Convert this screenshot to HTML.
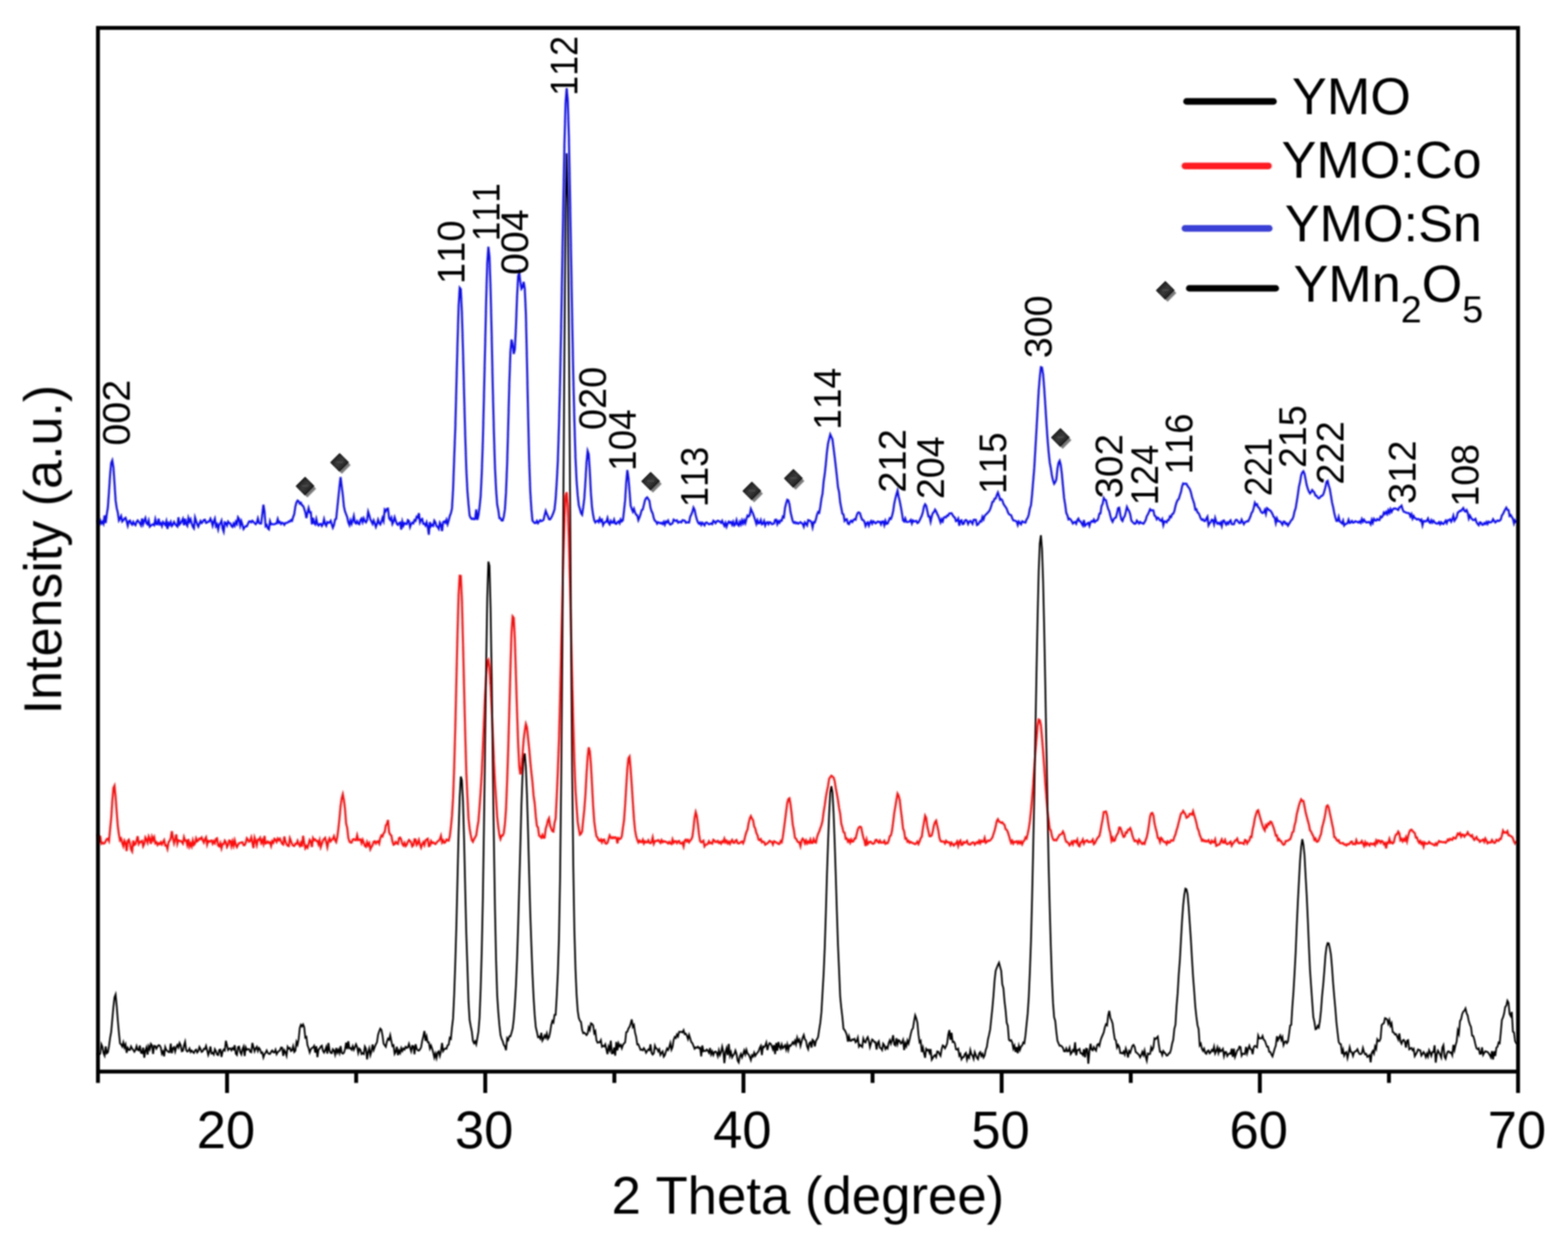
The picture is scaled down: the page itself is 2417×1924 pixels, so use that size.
<!DOCTYPE html>
<html lang="en"><head><meta charset="utf-8"><title>XRD patterns of YMO, YMO:Co and YMO:Sn</title>
<style>html,body{margin:0;padding:0;background:#fff}body{width:2417px;height:1924px;overflow:hidden}svg{display:block}text{font-family:"Liberation Sans",Arial,Helvetica,sans-serif;fill:#000;font-kerning:none}</style></head><body>
<svg role="img" aria-label="XRD patterns" width="2417" height="1924" viewBox="0 0 2417 1924">
<defs><linearGradient id="dg" x1="0" y1="0" x2="1" y2="1"><stop offset="0" stop-color="#111"/><stop offset="0.5" stop-color="#3a3a3a"/><stop offset="1" stop-color="#0a0a0a"/></linearGradient>
<g id="dia"><path d="M3.5 -9.5 L17 4 L3.5 17.5 L-10 4 Z" fill="#7d7d7d"/><path d="M0 -13.5 L13.5 0 L0 13.5 L-13.5 0 Z" fill="url(#dg)" stroke="#000" stroke-width="1.5"/><path d="M-5 -0.5 H5" stroke="#555" stroke-width="1.6" fill="none"/></g>
<filter id="soft" filterUnits="userSpaceOnUse" x="0" y="0" width="2417" height="1924"><feGaussianBlur stdDeviation="1.0"/></filter><filter id="soft2" filterUnits="userSpaceOnUse" x="0" y="0" width="2417" height="1924"><feGaussianBlur stdDeviation="1.0"/></filter></defs>
<rect width="2417" height="1924" fill="#fff"/>
<g fill="none" stroke-linejoin="miter" stroke-miterlimit="5" stroke-linecap="round" filter="url(#soft2)">
<path d="M151.0 803.5 L152.7 807.5 L154.4 802.5 L156.1 807.1 L157.8 804.3 L159.5 807.6 L161.2 794.8 L162.9 806.3 L164.6 792.8 L166.3 782.0 L168.0 758.0 L169.7 731.9 L171.4 713.7 L173.1 709.7 L174.8 720.2 L176.5 744.8 L178.2 771.7 L179.9 783.3 L181.6 790.2 L183.3 802.2 L185.0 799.2 L186.7 795.6 L188.4 804.0 L190.1 802.1 L191.8 799.6 L193.5 798.3 L195.2 803.8 L196.9 810.3 L198.6 803.6 L200.3 802.5 L202.0 806.9 L203.7 808.8 L205.4 804.7 L207.1 807.8 L208.8 809.6 L210.5 804.7 L212.2 802.3 L213.9 804.6 L215.6 806.6 L217.3 809.7 L219.0 799.4 L220.7 807.9 L222.4 802.7 L224.1 798.7 L225.8 806.7 L227.5 808.4 L229.2 802.7 L230.9 811.9 L232.6 810.2 L234.3 809.2 L236.0 808.1 L237.7 809.7 L239.4 800.7 L241.1 808.2 L242.8 808.4 L244.5 799.6 L246.2 808.1 L247.9 806.5 L249.6 811.0 L251.3 804.8 L253.0 807.1 L254.7 809.2 L256.4 803.6 L258.1 815.4 L259.8 806.4 L261.5 808.9 L263.2 804.7 L264.9 810.8 L266.6 808.6 L268.3 804.8 L270.0 807.9 L271.7 810.0 L273.4 811.7 L275.1 797.6 L276.8 808.4 L278.5 806.4 L280.2 803.6 L281.9 799.9 L283.6 809.8 L285.3 799.8 L287.0 807.7 L288.7 810.5 L290.4 798.6 L292.1 804.2 L293.8 800.5 L295.5 807.1 L297.2 812.1 L298.9 814.5 L300.6 797.9 L302.3 803.3 L304.0 808.3 L305.7 811.8 L307.4 807.2 L309.1 803.3 L310.8 806.3 L312.5 804.5 L314.2 801.6 L315.9 801.3 L317.6 806.1 L319.3 805.6 L321.0 804.1 L322.7 803.9 L324.4 799.7 L326.1 803.6 L327.8 810.4 L329.5 804.1 L331.2 799.6 L332.9 811.2 L334.6 808.4 L336.3 816.0 L338.0 808.3 L339.7 806.8 L341.4 802.7 L343.1 814.6 L344.8 819.5 L346.5 805.4 L348.2 806.4 L349.9 810.1 L351.6 804.2 L353.3 806.4 L355.0 806.9 L356.7 810.9 L358.4 812.4 L360.1 807.3 L361.8 810.6 L363.5 804.4 L365.2 807.5 L366.9 797.6 L368.6 800.4 L370.3 810.2 L372.0 803.6 L373.7 809.0 L375.4 815.5 L377.1 812.9 L378.8 811.2 L380.5 811.4 L382.2 807.7 L383.9 804.0 L385.6 803.7 L387.3 805.2 L389.0 802.9 L390.7 804.5 L392.4 806.5 L394.1 808.2 L395.8 805.8 L397.5 799.4 L399.2 806.0 L400.9 807.2 L402.6 807.1 L404.3 793.1 L406.0 778.1 L407.7 788.5 L409.4 811.1 L411.1 809.4 L412.8 814.5 L414.5 816.1 L416.2 803.7 L417.9 808.3 L419.6 808.0 L421.3 808.3 L423.0 808.3 L424.7 807.3 L426.4 806.9 L428.1 800.3 L429.8 805.9 L431.5 804.6 L433.2 807.9 L434.9 805.8 L436.6 806.6 L438.3 809.1 L440.0 806.3 L441.7 806.2 L443.4 805.6 L445.1 803.9 L446.8 804.3 L448.5 801.7 L450.2 802.9 L451.9 797.1 L453.6 792.5 L455.3 780.9 L457.0 774.6 L458.7 771.7 L460.4 772.9 L462.1 776.4 L463.8 775.2 L465.5 779.0 L467.2 779.8 L468.9 784.2 L470.6 789.7 L472.3 798.6 L474.0 790.5 L475.7 783.4 L477.4 790.0 L479.1 789.7 L480.8 808.3 L482.5 798.2 L484.2 806.4 L485.9 808.4 L487.6 800.3 L489.3 807.9 L491.0 810.1 L492.7 807.9 L494.4 807.7 L496.1 810.8 L497.8 808.0 L499.5 800.5 L501.2 807.6 L502.9 810.4 L504.6 804.9 L506.3 806.0 L508.0 805.5 L509.7 802.9 L511.4 808.5 L513.1 813.6 L514.8 809.4 L516.5 801.0 L518.2 799.8 L519.9 783.2 L521.6 766.9 L523.3 750.2 L525.0 735.4 L526.7 749.8 L528.4 762.9 L530.1 780.6 L531.8 788.4 L533.5 792.8 L535.2 797.1 L536.9 805.3 L538.6 809.3 L540.3 802.3 L542.0 807.5 L543.7 802.4 L545.4 795.6 L547.1 805.4 L548.8 806.9 L550.5 803.6 L552.2 807.2 L553.9 808.1 L555.6 801.8 L557.3 799.5 L559.0 805.1 L560.7 799.2 L562.4 803.3 L564.1 805.3 L565.8 802.0 L567.5 789.0 L569.2 794.1 L570.9 800.8 L572.6 803.9 L574.3 807.6 L576.0 802.4 L577.7 807.0 L579.4 812.3 L581.1 807.8 L582.8 801.4 L584.5 806.3 L586.2 808.5 L587.9 804.4 L589.6 798.5 L591.3 803.2 L593.0 785.9 L594.7 788.1 L596.4 784.4 L598.1 784.1 L599.8 799.0 L601.5 801.4 L603.2 798.1 L604.9 807.6 L606.6 804.0 L608.3 797.5 L610.0 802.8 L611.7 807.5 L613.4 809.1 L615.1 806.4 L616.8 805.6 L618.5 816.4 L620.2 804.2 L621.9 810.3 L623.6 806.5 L625.3 807.6 L627.0 808.0 L628.7 801.9 L630.4 803.2 L632.1 812.4 L633.8 807.8 L635.5 805.7 L637.2 806.8 L638.9 801.7 L640.6 802.9 L642.3 796.6 L644.0 797.9 L645.7 791.1 L647.4 805.1 L649.1 801.2 L650.8 800.1 L652.5 807.5 L654.2 807.3 L655.9 810.2 L657.6 805.3 L659.3 811.7 L661.0 824.4 L662.7 805.0 L664.4 811.1 L666.1 809.0 L667.8 810.5 L669.5 802.7 L671.2 805.3 L672.9 811.3 L674.6 812.2 L676.3 815.2 L678.0 805.9 L679.7 809.0 L681.4 818.8 L683.1 804.8 L684.8 803.7 L686.5 805.8 L688.2 801.4 L689.9 808.0 L691.6 802.6 L693.3 795.6 L695.0 791.4 L696.7 784.1 L698.4 754.6 L700.1 706.8 L701.8 660.4 L703.5 595.1 L705.2 530.4 L706.9 473.0 L708.6 443.7 L710.3 445.9 L712.0 482.5 L713.7 540.4 L715.4 607.5 L717.1 671.0 L718.8 723.3 L720.5 757.1 L722.2 777.3 L723.9 794.9 L725.6 798.5 L727.3 800.1 L729.0 799.3 L730.7 800.5 L732.4 800.1 L734.1 785.5 L735.8 801.5 L737.5 794.6 L739.2 781.5 L740.9 765.2 L742.6 730.0 L744.3 680.4 L746.0 610.9 L747.7 537.7 L749.4 463.0 L751.1 405.5 L752.8 380.4 L754.5 395.8 L756.2 445.3 L757.9 517.0 L759.6 597.8 L761.3 665.7 L763.0 720.7 L764.7 754.8 L766.4 778.0 L768.1 786.4 L769.8 798.9 L771.5 799.0 L773.2 802.5 L774.9 802.4 L776.6 796.3 L778.3 785.2 L780.0 758.9 L781.7 715.9 L783.4 656.4 L785.1 591.1 L786.8 542.1 L788.5 523.5 L790.2 530.9 L791.9 545.6 L793.6 538.8 L795.3 504.2 L797.0 458.0 L798.7 425.9 L800.4 420.7 L802.1 435.0 L803.8 445.1 L805.5 442.6 L807.2 434.5 L808.9 445.0 L810.6 483.4 L812.3 557.4 L814.0 637.3 L815.7 709.2 L817.4 757.5 L819.1 784.9 L820.8 802.8 L822.5 804.6 L824.2 806.4 L825.9 806.3 L827.6 803.2 L829.3 806.6 L831.0 804.2 L832.7 802.0 L834.4 803.5 L836.1 802.6 L837.8 801.6 L839.5 794.3 L841.2 787.7 L842.9 792.2 L844.6 795.8 L846.3 800.6 L848.0 800.7 L849.7 798.1 L851.4 794.6 L853.1 790.4 L854.8 785.2 L856.5 769.1 L858.2 743.1 L859.9 710.1 L861.6 656.5 L863.3 589.8 L865.0 503.0 L866.7 406.4 L868.4 308.7 L870.1 221.2 L871.8 158.7 L873.5 135.8 L875.2 155.4 L876.9 211.5 L878.6 298.2 L880.3 394.7 L882.0 492.4 L883.7 579.5 L885.4 649.0 L887.1 705.7 L888.8 741.6 L890.5 763.7 L892.2 779.2 L893.9 784.8 L895.6 791.1 L897.3 793.5 L899.0 782.0 L900.7 768.4 L902.4 742.5 L904.1 713.2 L905.8 695.3 L907.5 700.2 L909.2 727.4 L910.9 760.6 L912.6 782.3 L914.3 794.1 L916.0 802.2 L917.7 805.4 L919.4 803.4 L921.1 802.6 L922.8 804.9 L924.5 799.4 L926.2 803.5 L927.9 801.5 L929.6 809.4 L931.3 806.0 L933.0 804.8 L934.7 804.4 L936.4 798.8 L938.1 806.0 L939.8 808.4 L941.5 802.9 L943.2 805.7 L944.9 805.7 L946.6 801.2 L948.3 807.0 L950.0 807.7 L951.7 805.3 L953.4 803.8 L955.1 806.7 L956.8 800.8 L958.5 803.7 L960.2 802.1 L961.9 787.2 L963.6 771.4 L965.3 743.5 L967.0 724.7 L968.7 736.3 L970.4 757.3 L972.1 779.4 L973.8 784.4 L975.5 788.8 L977.2 784.5 L978.9 790.2 L980.6 793.6 L982.3 794.6 L984.0 801.8 L985.7 797.8 L987.4 792.8 L989.1 786.4 L990.8 785.4 L992.5 778.5 L994.2 771.3 L995.9 768.1 L997.6 766.8 L999.3 769.4 L1001.0 771.8 L1002.7 782.7 L1004.4 788.3 L1006.1 791.5 L1007.8 799.0 L1009.5 802.9 L1011.2 803.8 L1012.9 807.3 L1014.6 805.2 L1016.3 805.8 L1018.0 807.0 L1019.7 805.9 L1021.4 807.8 L1023.1 804.7 L1024.8 808.8 L1026.5 803.9 L1028.2 805.4 L1029.9 802.5 L1031.6 807.0 L1033.3 808.8 L1035.0 807.7 L1036.7 806.8 L1038.4 801.1 L1040.1 802.5 L1041.8 803.2 L1043.5 802.2 L1045.2 805.8 L1046.9 804.8 L1048.6 804.4 L1050.3 805.4 L1052.0 802.0 L1053.7 802.3 L1055.4 802.6 L1057.1 805.8 L1058.8 805.2 L1060.5 805.5 L1062.2 805.4 L1063.9 796.7 L1065.6 793.3 L1067.3 789.0 L1069.0 782.6 L1070.7 785.9 L1072.4 794.3 L1074.1 800.5 L1075.8 805.3 L1077.5 807.4 L1079.2 805.7 L1080.9 809.2 L1082.6 805.9 L1084.3 807.6 L1086.0 809.9 L1087.7 806.0 L1089.4 805.4 L1091.1 806.9 L1092.8 808.2 L1094.5 807.8 L1096.2 806.9 L1097.9 808.1 L1099.6 802.8 L1101.3 804.1 L1103.0 806.5 L1104.7 803.9 L1106.4 802.7 L1108.1 803.5 L1109.8 804.3 L1111.5 806.0 L1113.2 802.9 L1114.9 807.2 L1116.6 810.7 L1118.3 806.2 L1120.0 812.0 L1121.7 807.1 L1123.4 804.2 L1125.1 806.1 L1126.8 804.8 L1128.5 808.8 L1130.2 804.4 L1131.9 810.0 L1133.6 807.9 L1135.3 801.9 L1137.0 808.4 L1138.7 810.2 L1140.4 804.5 L1142.1 808.4 L1143.8 802.3 L1145.5 806.8 L1147.2 802.2 L1148.9 806.5 L1150.6 800.1 L1152.3 794.7 L1154.0 796.3 L1155.7 794.3 L1157.4 784.5 L1159.1 788.4 L1160.8 791.9 L1162.5 796.9 L1164.2 802.1 L1165.9 807.7 L1167.6 802.1 L1169.3 806.8 L1171.0 806.2 L1172.7 801.8 L1174.4 808.3 L1176.1 807.3 L1177.8 803.2 L1179.5 809.9 L1181.2 806.0 L1182.9 805.0 L1184.6 808.1 L1186.3 805.0 L1188.0 805.5 L1189.7 808.0 L1191.4 807.8 L1193.1 806.9 L1194.8 801.5 L1196.5 801.3 L1198.2 808.0 L1199.9 803.6 L1201.6 805.8 L1203.3 802.3 L1205.0 802.7 L1206.7 796.4 L1208.4 797.6 L1210.1 782.8 L1211.8 775.9 L1213.5 770.4 L1215.2 771.3 L1216.9 777.2 L1218.6 789.4 L1220.3 796.8 L1222.0 803.6 L1223.7 806.0 L1225.4 804.8 L1227.1 807.0 L1228.8 805.8 L1230.5 807.3 L1232.2 806.3 L1233.9 805.0 L1235.6 806.5 L1237.3 807.5 L1239.0 811.9 L1240.7 805.4 L1242.4 807.3 L1244.1 809.8 L1245.8 801.7 L1247.5 802.3 L1249.2 803.3 L1250.9 805.3 L1252.6 812.9 L1254.3 804.9 L1256.0 805.4 L1257.7 800.6 L1259.4 793.4 L1261.1 789.4 L1262.8 790.6 L1264.5 781.3 L1266.2 768.7 L1267.9 761.1 L1269.6 742.3 L1271.3 730.8 L1273.0 715.0 L1274.7 696.7 L1276.4 683.6 L1278.1 676.6 L1279.8 669.8 L1281.5 673.6 L1283.2 677.3 L1284.9 690.8 L1286.6 704.2 L1288.3 719.0 L1290.0 734.2 L1291.7 750.9 L1293.4 758.5 L1295.1 774.3 L1296.8 783.1 L1298.5 792.1 L1300.2 793.0 L1301.9 802.9 L1303.6 800.9 L1305.3 800.4 L1307.0 807.2 L1308.7 808.1 L1310.4 804.3 L1312.1 802.8 L1313.8 804.8 L1315.5 801.7 L1317.2 800.3 L1318.9 801.2 L1320.6 794.4 L1322.3 790.5 L1324.0 790.0 L1325.7 791.4 L1327.4 797.4 L1329.1 801.4 L1330.8 801.8 L1332.5 804.3 L1334.2 810.7 L1335.9 806.6 L1337.6 805.1 L1339.3 810.3 L1341.0 805.7 L1342.7 803.4 L1344.4 807.3 L1346.1 803.6 L1347.8 804.9 L1349.5 806.8 L1351.2 805.8 L1352.9 804.0 L1354.6 804.7 L1356.3 804.4 L1358.0 808.4 L1359.7 804.2 L1361.4 803.8 L1363.1 809.6 L1364.8 803.0 L1366.5 807.6 L1368.2 807.1 L1369.9 803.1 L1371.6 798.9 L1373.3 800.0 L1375.0 795.6 L1376.7 788.4 L1378.4 776.8 L1380.1 768.8 L1381.8 762.2 L1383.5 756.5 L1385.2 765.4 L1386.9 772.6 L1388.6 781.4 L1390.3 790.9 L1392.0 802.3 L1393.7 804.0 L1395.4 799.4 L1397.1 804.6 L1398.8 804.7 L1400.5 804.5 L1402.2 803.6 L1403.9 801.6 L1405.6 807.0 L1407.3 802.5 L1409.0 804.0 L1410.7 803.4 L1412.4 803.0 L1414.1 806.3 L1415.8 805.4 L1417.5 802.2 L1419.2 798.6 L1420.9 795.0 L1422.6 789.4 L1424.3 780.7 L1426.0 777.4 L1427.7 779.6 L1429.4 787.6 L1431.1 796.1 L1432.8 796.1 L1434.5 804.3 L1436.2 796.3 L1437.9 790.9 L1439.6 789.6 L1441.3 785.6 L1443.0 788.1 L1444.7 792.6 L1446.4 795.7 L1448.1 800.2 L1449.8 805.3 L1451.5 800.6 L1453.2 803.7 L1454.9 797.9 L1456.6 796.9 L1458.3 797.7 L1460.0 794.6 L1461.7 794.8 L1463.4 791.6 L1465.1 791.5 L1466.8 791.2 L1468.5 794.2 L1470.2 796.8 L1471.9 798.0 L1473.6 803.5 L1475.3 802.5 L1477.0 799.6 L1478.7 810.4 L1480.4 802.8 L1482.1 802.1 L1483.8 807.9 L1485.5 807.6 L1487.2 802.8 L1488.9 801.6 L1490.6 802.9 L1492.3 807.8 L1494.0 804.4 L1495.7 803.1 L1497.4 804.8 L1499.1 807.5 L1500.8 801.5 L1502.5 801.3 L1504.2 801.4 L1505.9 809.4 L1507.6 808.5 L1509.3 806.1 L1511.0 803.3 L1512.7 804.1 L1514.4 797.0 L1516.1 800.6 L1517.8 795.3 L1519.5 793.3 L1521.2 792.1 L1522.9 789.8 L1524.6 788.3 L1526.3 784.9 L1528.0 780.1 L1529.7 773.8 L1531.4 773.3 L1533.1 768.7 L1534.8 768.6 L1536.5 763.3 L1538.2 759.3 L1539.9 764.1 L1541.6 770.5 L1543.3 769.4 L1545.0 771.2 L1546.7 776.5 L1548.4 779.3 L1550.1 781.6 L1551.8 784.3 L1553.5 789.3 L1555.2 792.7 L1556.9 793.6 L1558.6 794.2 L1560.3 798.9 L1562.0 802.3 L1563.7 802.5 L1565.4 803.1 L1567.1 803.9 L1568.8 809.3 L1570.5 804.0 L1572.2 806.2 L1573.9 808.2 L1575.6 803.6 L1577.3 804.5 L1579.0 805.2 L1580.7 805.6 L1582.4 800.8 L1584.1 798.4 L1585.8 793.4 L1587.5 784.0 L1589.2 778.9 L1590.9 762.5 L1592.6 741.7 L1594.3 721.2 L1596.0 691.6 L1597.7 662.5 L1599.4 631.8 L1601.1 602.2 L1602.8 581.4 L1604.5 566.1 L1606.2 566.6 L1607.9 577.3 L1609.6 598.5 L1611.3 624.5 L1613.0 651.4 L1614.7 676.6 L1616.4 696.5 L1618.1 713.0 L1619.8 721.8 L1621.5 733.4 L1623.2 740.7 L1624.9 745.8 L1626.6 743.2 L1628.3 739.0 L1630.0 722.8 L1631.7 713.6 L1633.4 710.4 L1635.1 716.9 L1636.8 730.5 L1638.5 749.0 L1640.2 767.5 L1641.9 777.8 L1643.6 790.7 L1645.3 794.3 L1647.0 800.7 L1648.7 799.4 L1650.4 800.9 L1652.1 803.6 L1653.8 807.1 L1655.5 805.4 L1657.2 804.7 L1658.9 807.4 L1660.6 802.0 L1662.3 799.6 L1664.0 803.4 L1665.7 804.0 L1667.4 807.3 L1669.1 810.1 L1670.8 801.7 L1672.5 810.6 L1674.2 808.8 L1675.9 807.1 L1677.6 805.9 L1679.3 810.7 L1681.0 805.1 L1682.7 803.5 L1684.4 804.4 L1686.1 801.0 L1687.8 804.7 L1689.5 802.8 L1691.2 802.4 L1692.9 799.5 L1694.6 792.1 L1696.3 791.6 L1698.0 779.9 L1699.7 777.0 L1701.4 767.8 L1703.1 770.5 L1704.8 771.2 L1706.5 778.6 L1708.2 784.7 L1709.9 788.1 L1711.6 795.4 L1713.3 801.2 L1715.0 804.5 L1716.7 800.6 L1718.4 798.6 L1720.1 797.8 L1721.8 791.5 L1723.5 783.3 L1725.2 782.6 L1726.9 793.6 L1728.6 801.1 L1730.3 803.2 L1732.0 798.2 L1733.7 795.9 L1735.4 789.3 L1737.1 781.6 L1738.8 785.4 L1740.5 787.8 L1742.2 793.0 L1743.9 802.6 L1745.6 804.5 L1747.3 806.3 L1749.0 807.6 L1750.7 807.1 L1752.4 802.6 L1754.1 804.6 L1755.8 807.1 L1757.5 804.7 L1759.2 806.2 L1760.9 806.5 L1762.6 807.4 L1764.3 804.9 L1766.0 801.8 L1767.7 795.8 L1769.4 793.0 L1771.1 789.4 L1772.8 785.1 L1774.5 787.1 L1776.2 786.6 L1777.9 786.8 L1779.6 795.0 L1781.3 795.8 L1783.0 800.5 L1784.7 798.1 L1786.4 799.3 L1788.1 802.3 L1789.8 803.0 L1791.5 800.2 L1793.2 809.5 L1794.9 803.7 L1796.6 803.9 L1798.3 805.3 L1800.0 801.8 L1801.7 801.7 L1803.4 796.0 L1805.1 797.3 L1806.8 792.6 L1808.5 792.0 L1810.2 788.0 L1811.9 780.4 L1813.6 774.6 L1815.3 770.8 L1817.0 769.3 L1818.7 763.6 L1820.4 758.5 L1822.1 750.0 L1823.8 745.4 L1825.5 746.1 L1827.2 745.6 L1828.9 745.9 L1830.6 749.3 L1832.3 751.5 L1834.0 753.9 L1835.7 758.9 L1837.4 766.1 L1839.1 771.4 L1840.8 776.4 L1842.5 785.7 L1844.2 785.1 L1845.9 790.1 L1847.6 791.0 L1849.3 795.0 L1851.0 799.5 L1852.7 801.5 L1854.4 800.6 L1856.1 803.1 L1857.8 803.1 L1859.5 799.6 L1861.2 796.7 L1862.9 809.8 L1864.6 806.6 L1866.3 804.7 L1868.0 801.3 L1869.7 802.0 L1871.4 808.1 L1873.1 798.7 L1874.8 804.5 L1876.5 807.4 L1878.2 806.0 L1879.9 807.9 L1881.6 805.5 L1883.3 811.0 L1885.0 803.0 L1886.7 802.4 L1888.4 806.0 L1890.1 808.8 L1891.8 805.5 L1893.5 807.6 L1895.2 803.8 L1896.9 802.1 L1898.6 808.0 L1900.3 808.3 L1902.0 808.3 L1903.7 803.3 L1905.4 801.4 L1907.1 802.0 L1908.8 804.6 L1910.5 806.5 L1912.2 806.0 L1913.9 801.2 L1915.6 804.9 L1917.3 808.1 L1919.0 805.0 L1920.7 804.5 L1922.4 803.4 L1924.1 803.6 L1925.8 800.0 L1927.5 796.2 L1929.2 790.8 L1930.9 788.6 L1932.6 782.9 L1934.3 775.2 L1936.0 778.6 L1937.7 777.4 L1939.4 782.0 L1941.1 783.1 L1942.8 786.9 L1944.5 789.9 L1946.2 790.9 L1947.9 789.8 L1949.6 786.2 L1951.3 792.2 L1953.0 783.4 L1954.7 784.7 L1956.4 786.6 L1958.1 787.1 L1959.8 789.3 L1961.5 792.5 L1963.2 796.8 L1964.9 797.9 L1966.6 806.4 L1968.3 799.3 L1970.0 803.4 L1971.7 803.5 L1973.4 803.9 L1975.1 806.2 L1976.8 808.9 L1978.5 804.1 L1980.2 804.3 L1981.9 807.7 L1983.6 806.9 L1985.3 810.3 L1987.0 807.6 L1988.7 804.9 L1990.4 802.0 L1992.1 800.6 L1993.8 796.3 L1995.5 788.4 L1997.2 783.4 L1998.9 773.3 L2000.6 762.2 L2002.3 750.1 L2004.0 742.9 L2005.7 732.5 L2007.4 728.4 L2009.1 726.5 L2010.8 730.3 L2012.5 738.9 L2014.2 747.8 L2015.9 753.5 L2017.6 757.9 L2019.3 760.7 L2021.0 758.7 L2022.7 755.4 L2024.4 757.4 L2026.1 759.6 L2027.8 764.3 L2029.5 764.3 L2031.2 767.2 L2032.9 768.4 L2034.6 766.9 L2036.3 764.9 L2038.0 764.3 L2039.7 762.5 L2041.4 757.2 L2043.1 751.2 L2044.8 742.8 L2046.5 741.3 L2048.2 748.8 L2049.9 754.2 L2051.6 764.2 L2053.3 774.8 L2055.0 781.8 L2056.7 790.9 L2058.4 797.9 L2060.1 803.2 L2061.8 803.1 L2063.5 796.9 L2065.2 803.9 L2066.9 805.2 L2068.6 807.0 L2070.3 802.6 L2072.0 810.0 L2073.7 807.9 L2075.4 807.6 L2077.1 806.5 L2078.8 801.3 L2080.5 806.2 L2082.2 805.5 L2083.9 803.2 L2085.6 805.7 L2087.3 805.4 L2089.0 803.6 L2090.7 804.2 L2092.4 804.4 L2094.1 805.6 L2095.8 803.8 L2097.5 806.0 L2099.2 800.3 L2100.9 804.3 L2102.6 801.2 L2104.3 803.8 L2106.0 805.5 L2107.7 805.4 L2109.4 804.7 L2111.1 805.1 L2112.8 808.2 L2114.5 801.4 L2116.2 805.9 L2117.9 799.9 L2119.6 802.1 L2121.3 802.7 L2123.0 800.3 L2124.7 801.6 L2126.4 801.8 L2128.1 796.4 L2129.8 797.7 L2131.5 795.5 L2133.2 790.2 L2134.9 792.3 L2136.6 789.2 L2138.3 792.4 L2140.0 786.7 L2141.7 790.6 L2143.4 785.0 L2145.1 789.0 L2146.8 785.5 L2148.5 784.1 L2150.2 783.9 L2151.9 784.2 L2153.6 785.1 L2155.3 786.2 L2157.0 782.4 L2158.7 781.4 L2160.4 779.6 L2162.1 785.5 L2163.8 788.9 L2165.5 789.3 L2167.2 790.4 L2168.9 790.7 L2170.6 791.0 L2172.3 791.3 L2174.0 796.0 L2175.7 792.6 L2177.4 799.4 L2179.1 795.6 L2180.8 798.7 L2182.5 799.4 L2184.2 801.0 L2185.9 800.2 L2187.6 800.4 L2189.3 802.8 L2191.0 801.1 L2192.7 809.7 L2194.4 803.3 L2196.1 803.3 L2197.8 803.9 L2199.5 802.6 L2201.2 799.5 L2202.9 804.7 L2204.6 806.0 L2206.3 802.0 L2208.0 805.6 L2209.7 802.8 L2211.4 805.4 L2213.1 806.6 L2214.8 807.1 L2216.5 807.1 L2218.2 805.0 L2219.9 808.3 L2221.6 805.2 L2223.3 807.1 L2225.0 807.8 L2226.7 805.4 L2228.4 802.7 L2230.1 806.5 L2231.8 802.0 L2233.5 802.0 L2235.2 800.7 L2236.9 804.2 L2238.6 800.8 L2240.3 795.1 L2242.0 802.7 L2243.7 800.2 L2245.4 797.5 L2247.1 790.2 L2248.8 789.2 L2250.5 787.5 L2252.2 787.7 L2253.9 785.1 L2255.6 783.2 L2257.3 787.6 L2259.0 788.6 L2260.7 786.3 L2262.4 790.4 L2264.1 799.3 L2265.8 794.9 L2267.5 798.1 L2269.2 800.5 L2270.9 801.9 L2272.6 801.6 L2274.3 800.0 L2276.0 805.2 L2277.7 807.9 L2279.4 809.7 L2281.1 805.3 L2282.8 805.6 L2284.5 809.0 L2286.2 809.0 L2287.9 806.4 L2289.6 807.9 L2291.3 804.8 L2293.0 807.8 L2294.7 804.1 L2296.4 805.4 L2298.1 805.2 L2299.8 804.1 L2301.5 800.4 L2303.2 803.0 L2304.9 805.4 L2306.6 803.8 L2308.3 802.3 L2310.0 803.2 L2311.7 802.6 L2313.4 801.0 L2315.1 794.4 L2316.8 792.5 L2318.5 788.7 L2320.2 785.4 L2321.9 782.6 L2323.6 785.9 L2325.3 786.3 L2327.0 795.4 L2328.7 794.1 L2330.4 797.1 L2332.1 799.6 L2333.8 806.9 L2335.5 802.1 L2337.2 804.6 L2338.9 803.6" stroke="#0c0cf2" stroke-width="3.1"/>
<path d="M151.0 1287.1 L152.7 1299.1 L154.4 1288.5 L156.1 1300.6 L157.8 1299.1 L159.5 1300.6 L161.2 1299.8 L162.9 1296.9 L164.6 1293.5 L166.3 1292.9 L168.0 1296.5 L169.7 1278.4 L171.4 1261.5 L173.1 1235.1 L174.8 1215.0 L176.5 1211.3 L178.2 1228.8 L179.9 1252.2 L181.6 1273.8 L183.3 1286.4 L185.0 1295.4 L186.7 1292.9 L188.4 1299.6 L190.1 1304.4 L191.8 1296.1 L193.5 1299.6 L195.2 1312.0 L196.9 1296.5 L198.6 1294.6 L200.3 1300.0 L202.0 1309.4 L203.7 1312.6 L205.4 1296.0 L207.1 1302.7 L208.8 1301.4 L210.5 1295.9 L212.2 1289.1 L213.9 1301.0 L215.6 1297.9 L217.3 1297.9 L219.0 1296.4 L220.7 1304.5 L222.4 1300.8 L224.1 1291.1 L225.8 1294.3 L227.5 1299.0 L229.2 1289.6 L230.9 1293.6 L232.6 1301.0 L234.3 1290.1 L236.0 1294.9 L237.7 1290.7 L239.4 1300.0 L241.1 1298.4 L242.8 1302.7 L244.5 1300.0 L246.2 1301.4 L247.9 1298.3 L249.6 1301.7 L251.3 1298.1 L253.0 1295.1 L254.7 1303.4 L256.4 1303.3 L258.1 1308.7 L259.8 1298.4 L261.5 1296.3 L263.2 1292.3 L264.9 1281.4 L266.6 1292.3 L268.3 1300.0 L270.0 1293.8 L271.7 1286.4 L273.4 1300.9 L275.1 1295.4 L276.8 1296.3 L278.5 1296.4 L280.2 1298.1 L281.9 1300.5 L283.6 1290.7 L285.3 1295.9 L287.0 1295.8 L288.7 1302.5 L290.4 1293.6 L292.1 1304.9 L293.8 1300.5 L295.5 1304.9 L297.2 1295.8 L298.9 1302.5 L300.6 1300.3 L302.3 1292.6 L304.0 1296.9 L305.7 1295.6 L307.4 1292.8 L309.1 1293.6 L310.8 1291.1 L312.5 1295.4 L314.2 1298.9 L315.9 1294.0 L317.6 1290.9 L319.3 1302.0 L321.0 1296.4 L322.7 1297.6 L324.4 1296.4 L326.1 1295.8 L327.8 1300.6 L329.5 1296.9 L331.2 1299.8 L332.9 1293.4 L334.6 1292.5 L336.3 1303.5 L338.0 1304.7 L339.7 1299.9 L341.4 1307.8 L343.1 1301.2 L344.8 1301.0 L346.5 1295.9 L348.2 1298.3 L349.9 1305.8 L351.6 1302.8 L353.3 1295.7 L355.0 1296.3 L356.7 1304.3 L358.4 1297.0 L360.1 1303.8 L361.8 1295.6 L363.5 1302.0 L365.2 1305.9 L366.9 1302.4 L368.6 1299.9 L370.3 1299.4 L372.0 1298.7 L373.7 1298.4 L375.4 1303.0 L377.1 1302.9 L378.8 1299.4 L380.5 1292.4 L382.2 1294.7 L383.9 1297.6 L385.6 1296.2 L387.3 1291.1 L389.0 1299.5 L390.7 1307.4 L392.4 1291.3 L394.1 1296.3 L395.8 1302.9 L397.5 1294.4 L399.2 1294.6 L400.9 1291.7 L402.6 1299.3 L404.3 1295.5 L406.0 1301.0 L407.7 1288.8 L409.4 1300.4 L411.1 1299.5 L412.8 1297.3 L414.5 1299.5 L416.2 1298.5 L417.9 1304.2 L419.6 1296.9 L421.3 1299.1 L423.0 1293.2 L424.7 1294.7 L426.4 1297.9 L428.1 1292.7 L429.8 1295.3 L431.5 1293.1 L433.2 1297.1 L434.9 1300.7 L436.6 1301.9 L438.3 1289.6 L440.0 1297.1 L441.7 1301.5 L443.4 1303.7 L445.1 1304.4 L446.8 1292.3 L448.5 1296.6 L450.2 1301.5 L451.9 1303.7 L453.6 1304.2 L455.3 1300.9 L457.0 1301.1 L458.7 1296.4 L460.4 1301.2 L462.1 1304.1 L463.8 1299.6 L465.5 1305.1 L467.2 1288.6 L468.9 1299.3 L470.6 1307.7 L472.3 1304.4 L474.0 1306.9 L475.7 1301.0 L477.4 1294.9 L479.1 1297.3 L480.8 1305.7 L482.5 1292.1 L484.2 1295.3 L485.9 1294.1 L487.6 1296.5 L489.3 1296.6 L491.0 1301.7 L492.7 1295.4 L494.4 1305.9 L496.1 1300.9 L497.8 1296.0 L499.5 1293.4 L501.2 1291.6 L502.9 1298.4 L504.6 1306.0 L506.3 1297.0 L508.0 1292.6 L509.7 1297.0 L511.4 1294.7 L513.1 1293.3 L514.8 1289.2 L516.5 1295.4 L518.2 1298.2 L519.9 1290.4 L521.6 1277.6 L523.3 1261.4 L525.0 1242.6 L526.7 1230.8 L528.4 1224.5 L530.1 1233.5 L531.8 1247.0 L533.5 1269.6 L535.2 1276.3 L536.9 1291.7 L538.6 1297.1 L540.3 1298.9 L542.0 1298.9 L543.7 1294.3 L545.4 1293.5 L547.1 1295.1 L548.8 1295.3 L550.5 1287.7 L552.2 1295.2 L553.9 1294.6 L555.6 1294.0 L557.3 1299.8 L559.0 1294.6 L560.7 1299.0 L562.4 1304.0 L564.1 1305.5 L565.8 1298.3 L567.5 1303.0 L569.2 1299.9 L570.9 1309.3 L572.6 1305.7 L574.3 1302.8 L576.0 1297.6 L577.7 1297.0 L579.4 1300.3 L581.1 1297.5 L582.8 1296.9 L584.5 1300.5 L586.2 1291.9 L587.9 1288.0 L589.6 1289.5 L591.3 1284.8 L593.0 1282.5 L594.7 1272.6 L596.4 1270.2 L598.1 1264.2 L599.8 1283.0 L601.5 1286.7 L603.2 1287.9 L604.9 1297.0 L606.6 1302.3 L608.3 1301.4 L610.0 1297.9 L611.7 1300.1 L613.4 1301.1 L615.1 1292.1 L616.8 1291.3 L618.5 1294.5 L620.2 1301.4 L621.9 1303.6 L623.6 1299.5 L625.3 1304.3 L627.0 1302.1 L628.7 1297.9 L630.4 1295.0 L632.1 1296.6 L633.8 1299.2 L635.5 1304.8 L637.2 1303.1 L638.9 1294.0 L640.6 1294.2 L642.3 1302.6 L644.0 1300.0 L645.7 1295.0 L647.4 1301.9 L649.1 1306.7 L650.8 1301.5 L652.5 1298.4 L654.2 1302.7 L655.9 1295.7 L657.6 1294.3 L659.3 1293.2 L661.0 1304.5 L662.7 1303.9 L664.4 1296.7 L666.1 1299.6 L667.8 1298.6 L669.5 1300.2 L671.2 1301.2 L672.9 1299.3 L674.6 1296.9 L676.3 1296.1 L678.0 1294.0 L679.7 1288.6 L681.4 1298.7 L683.1 1295.7 L684.8 1299.3 L686.5 1298.4 L688.2 1294.2 L689.9 1295.3 L691.6 1296.0 L693.3 1289.4 L695.0 1275.8 L696.7 1257.9 L698.4 1230.4 L700.1 1183.2 L701.8 1121.8 L703.5 1049.2 L705.2 977.8 L706.9 917.4 L708.6 887.6 L710.3 887.8 L712.0 925.4 L713.7 990.9 L715.4 1061.7 L717.1 1130.5 L718.8 1191.1 L720.5 1228.3 L722.2 1261.8 L723.9 1277.5 L725.6 1287.3 L727.3 1295.1 L729.0 1297.7 L730.7 1293.6 L732.4 1290.9 L734.1 1287.6 L735.8 1275.7 L737.5 1265.9 L739.2 1244.1 L740.9 1220.3 L742.6 1191.6 L744.3 1153.4 L746.0 1113.6 L747.7 1072.5 L749.4 1041.2 L751.1 1020.8 L752.8 1017.6 L754.5 1029.9 L756.2 1056.6 L757.9 1091.9 L759.6 1130.5 L761.3 1172.6 L763.0 1205.9 L764.7 1232.3 L766.4 1259.6 L768.1 1275.1 L769.8 1287.1 L771.5 1293.4 L773.2 1288.3 L774.9 1288.2 L776.6 1284.3 L778.3 1270.5 L780.0 1247.2 L781.7 1204.8 L783.4 1154.6 L785.1 1092.9 L786.8 1030.3 L788.5 974.5 L790.2 950.2 L791.9 952.5 L793.6 985.1 L795.3 1041.7 L797.0 1097.2 L798.7 1146.6 L800.4 1181.7 L802.1 1193.9 L803.8 1183.3 L805.5 1162.9 L807.2 1140.3 L808.9 1126.5 L810.6 1116.2 L812.3 1121.6 L814.0 1138.0 L815.7 1154.2 L817.4 1174.0 L819.1 1191.0 L820.8 1206.2 L822.5 1227.0 L824.2 1238.3 L825.9 1258.7 L827.6 1273.2 L829.3 1275.6 L831.0 1288.1 L832.7 1289.6 L834.4 1291.6 L836.1 1287.3 L837.8 1291.6 L839.5 1291.3 L841.2 1277.6 L842.9 1272.3 L844.6 1264.7 L846.3 1261.3 L848.0 1273.1 L849.7 1277.4 L851.4 1281.4 L853.1 1282.1 L854.8 1268.5 L856.5 1262.0 L858.2 1227.5 L859.9 1188.8 L861.6 1141.4 L863.3 1078.4 L865.0 1004.1 L866.7 928.6 L868.4 858.2 L870.1 799.9 L871.8 764.8 L873.5 758.9 L875.2 781.5 L876.9 832.2 L878.6 898.5 L880.3 974.4 L882.0 1048.0 L883.7 1116.6 L885.4 1174.6 L887.1 1218.1 L888.8 1243.6 L890.5 1267.4 L892.2 1277.7 L893.9 1286.8 L895.6 1285.2 L897.3 1281.6 L899.0 1264.1 L900.7 1247.9 L902.4 1225.4 L904.1 1193.3 L905.8 1167.3 L907.5 1152.1 L909.2 1158.7 L910.9 1179.1 L912.6 1210.1 L914.3 1242.3 L916.0 1266.7 L917.7 1279.0 L919.4 1289.4 L921.1 1291.2 L922.8 1295.3 L924.5 1296.4 L926.2 1294.2 L927.9 1298.6 L929.6 1294.7 L931.3 1294.3 L933.0 1300.0 L934.7 1300.8 L936.4 1299.4 L938.1 1293.8 L939.8 1288.0 L941.5 1291.2 L943.2 1292.5 L944.9 1290.6 L946.6 1292.0 L948.3 1290.7 L950.0 1291.5 L951.7 1300.3 L953.4 1292.1 L955.1 1293.4 L956.8 1292.8 L958.5 1289.1 L960.2 1276.5 L961.9 1264.8 L963.6 1241.5 L965.3 1213.0 L967.0 1185.7 L968.7 1169.1 L970.4 1166.4 L972.1 1185.8 L973.8 1210.4 L975.5 1236.7 L977.2 1262.2 L978.9 1279.7 L980.6 1289.2 L982.3 1294.8 L984.0 1298.8 L985.7 1295.9 L987.4 1298.0 L989.1 1298.3 L990.8 1294.6 L992.5 1300.3 L994.2 1297.1 L995.9 1298.7 L997.6 1298.6 L999.3 1295.5 L1001.0 1299.2 L1002.7 1299.9 L1004.4 1298.2 L1006.1 1291.1 L1007.8 1300.8 L1009.5 1297.2 L1011.2 1296.3 L1012.9 1296.4 L1014.6 1295.1 L1016.3 1297.0 L1018.0 1299.4 L1019.7 1295.2 L1021.4 1298.4 L1023.1 1296.7 L1024.8 1297.6 L1026.5 1297.5 L1028.2 1298.9 L1029.9 1300.5 L1031.6 1298.0 L1033.3 1300.2 L1035.0 1301.3 L1036.7 1294.2 L1038.4 1299.2 L1040.1 1297.0 L1041.8 1296.9 L1043.5 1299.8 L1045.2 1297.1 L1046.9 1296.4 L1048.6 1300.4 L1050.3 1300.2 L1052.0 1299.0 L1053.7 1304.9 L1055.4 1296.0 L1057.1 1294.4 L1058.8 1297.1 L1060.5 1295.0 L1062.2 1298.6 L1063.9 1295.8 L1065.6 1294.1 L1067.3 1290.0 L1069.0 1277.0 L1070.7 1260.4 L1072.4 1252.0 L1074.1 1258.0 L1075.8 1271.0 L1077.5 1286.4 L1079.2 1296.6 L1080.9 1298.7 L1082.6 1297.4 L1084.3 1296.1 L1086.0 1304.7 L1087.7 1302.2 L1089.4 1302.1 L1091.1 1300.7 L1092.8 1296.9 L1094.5 1299.9 L1096.2 1299.2 L1097.9 1300.4 L1099.6 1294.7 L1101.3 1295.9 L1103.0 1298.1 L1104.7 1298.0 L1106.4 1296.5 L1108.1 1299.5 L1109.8 1298.0 L1111.5 1300.6 L1113.2 1297.0 L1114.9 1298.3 L1116.6 1293.1 L1118.3 1298.5 L1120.0 1296.3 L1121.7 1300.1 L1123.4 1297.7 L1125.1 1300.9 L1126.8 1297.2 L1128.5 1294.9 L1130.2 1299.0 L1131.9 1299.4 L1133.6 1296.3 L1135.3 1295.0 L1137.0 1299.8 L1138.7 1300.4 L1140.4 1299.7 L1142.1 1298.0 L1143.8 1297.2 L1145.5 1300.0 L1147.2 1295.8 L1148.9 1288.2 L1150.6 1282.6 L1152.3 1278.8 L1154.0 1268.8 L1155.7 1261.9 L1157.4 1258.2 L1159.1 1262.0 L1160.8 1264.3 L1162.5 1274.1 L1164.2 1277.3 L1165.9 1284.1 L1167.6 1287.6 L1169.3 1294.4 L1171.0 1295.4 L1172.7 1293.6 L1174.4 1298.6 L1176.1 1297.4 L1177.8 1298.2 L1179.5 1302.2 L1181.2 1301.2 L1182.9 1300.3 L1184.6 1298.4 L1186.3 1296.3 L1188.0 1297.4 L1189.7 1298.1 L1191.4 1301.9 L1193.1 1297.0 L1194.8 1297.7 L1196.5 1298.8 L1198.2 1299.6 L1199.9 1301.1 L1201.6 1301.0 L1203.3 1296.7 L1205.0 1298.4 L1206.7 1290.2 L1208.4 1277.8 L1210.1 1264.8 L1211.8 1251.1 L1213.5 1238.0 L1215.2 1232.0 L1216.9 1230.7 L1218.6 1240.6 L1220.3 1254.5 L1222.0 1271.3 L1223.7 1279.6 L1225.4 1291.7 L1227.1 1293.0 L1228.8 1296.3 L1230.5 1298.5 L1232.2 1298.5 L1233.9 1304.4 L1235.6 1295.9 L1237.3 1292.9 L1239.0 1294.9 L1240.7 1300.0 L1242.4 1295.8 L1244.1 1300.4 L1245.8 1297.5 L1247.5 1299.3 L1249.2 1294.2 L1250.9 1299.6 L1252.6 1299.5 L1254.3 1293.8 L1256.0 1298.0 L1257.7 1299.0 L1259.4 1290.8 L1261.1 1285.5 L1262.8 1281.9 L1264.5 1276.8 L1266.2 1272.3 L1267.9 1265.5 L1269.6 1252.0 L1271.3 1241.8 L1273.0 1229.2 L1274.7 1219.8 L1276.4 1211.8 L1278.1 1200.6 L1279.8 1198.2 L1281.5 1195.9 L1283.2 1197.1 L1284.9 1198.7 L1286.6 1204.1 L1288.3 1215.0 L1290.0 1223.9 L1291.7 1233.6 L1293.4 1245.7 L1295.1 1254.4 L1296.8 1269.9 L1298.5 1275.6 L1300.2 1282.8 L1301.9 1283.8 L1303.6 1293.1 L1305.3 1292.6 L1307.0 1297.4 L1308.7 1295.0 L1310.4 1299.2 L1312.1 1294.3 L1313.8 1297.6 L1315.5 1297.1 L1317.2 1292.6 L1318.9 1292.7 L1320.6 1285.7 L1322.3 1278.8 L1324.0 1275.4 L1325.7 1274.5 L1327.4 1275.4 L1329.1 1283.7 L1330.8 1291.2 L1332.5 1295.9 L1334.2 1304.3 L1335.9 1294.6 L1337.6 1301.2 L1339.3 1299.1 L1341.0 1297.5 L1342.7 1298.0 L1344.4 1300.5 L1346.1 1300.9 L1347.8 1299.7 L1349.5 1295.1 L1351.2 1294.8 L1352.9 1297.8 L1354.6 1299.1 L1356.3 1295.9 L1358.0 1299.2 L1359.7 1299.0 L1361.4 1298.9 L1363.1 1296.3 L1364.8 1300.8 L1366.5 1299.7 L1368.2 1299.8 L1369.9 1296.0 L1371.6 1289.2 L1373.3 1287.8 L1375.0 1280.6 L1376.7 1268.0 L1378.4 1253.8 L1380.1 1243.7 L1381.8 1233.2 L1383.5 1223.5 L1385.2 1226.7 L1386.9 1233.4 L1388.6 1248.5 L1390.3 1261.7 L1392.0 1277.3 L1393.7 1281.7 L1395.4 1292.9 L1397.1 1292.3 L1398.8 1297.6 L1400.5 1296.1 L1402.2 1299.3 L1403.9 1297.9 L1405.6 1299.1 L1407.3 1299.8 L1409.0 1300.7 L1410.7 1301.5 L1412.4 1300.0 L1414.1 1297.5 L1415.8 1301.2 L1417.5 1297.3 L1419.2 1292.2 L1420.9 1289.8 L1422.6 1277.4 L1424.3 1267.9 L1426.0 1257.5 L1427.7 1261.0 L1429.4 1274.2 L1431.1 1281.5 L1432.8 1289.1 L1434.5 1289.2 L1436.2 1287.8 L1437.9 1281.4 L1439.6 1272.6 L1441.3 1267.4 L1443.0 1265.1 L1444.7 1273.1 L1446.4 1280.5 L1448.1 1291.7 L1449.8 1296.4 L1451.5 1297.5 L1453.2 1297.1 L1454.9 1297.7 L1456.6 1300.2 L1458.3 1296.3 L1460.0 1298.5 L1461.7 1298.3 L1463.4 1298.7 L1465.1 1302.9 L1466.8 1299.2 L1468.5 1301.6 L1470.2 1303.6 L1471.9 1301.3 L1473.6 1300.3 L1475.3 1297.4 L1477.0 1304.1 L1478.7 1297.9 L1480.4 1295.8 L1482.1 1302.6 L1483.8 1302.1 L1485.5 1298.1 L1487.2 1299.4 L1488.9 1298.4 L1490.6 1296.3 L1492.3 1301.3 L1494.0 1301.7 L1495.7 1302.1 L1497.4 1300.0 L1499.1 1298.8 L1500.8 1298.8 L1502.5 1302.1 L1504.2 1300.0 L1505.9 1298.3 L1507.6 1299.9 L1509.3 1296.2 L1511.0 1299.9 L1512.7 1296.1 L1514.4 1297.7 L1516.1 1297.6 L1517.8 1291.8 L1519.5 1299.3 L1521.2 1297.9 L1522.9 1295.8 L1524.6 1296.5 L1526.3 1295.5 L1528.0 1293.6 L1529.7 1291.2 L1531.4 1285.8 L1533.1 1280.8 L1534.8 1274.0 L1536.5 1265.9 L1538.2 1263.0 L1539.9 1266.4 L1541.6 1267.3 L1543.3 1268.6 L1545.0 1267.7 L1546.7 1270.2 L1548.4 1271.6 L1550.1 1278.2 L1551.8 1279.3 L1553.5 1282.8 L1555.2 1288.2 L1556.9 1294.3 L1558.6 1299.3 L1560.3 1296.1 L1562.0 1300.5 L1563.7 1297.7 L1565.4 1298.0 L1567.1 1296.9 L1568.8 1300.3 L1570.5 1297.3 L1572.2 1300.1 L1573.9 1297.5 L1575.6 1301.5 L1577.3 1297.3 L1579.0 1295.7 L1580.7 1291.0 L1582.4 1292.7 L1584.1 1285.6 L1585.8 1277.5 L1587.5 1266.2 L1589.2 1249.9 L1590.9 1230.9 L1592.6 1209.7 L1594.3 1183.7 L1596.0 1159.4 L1597.7 1139.5 L1599.4 1119.2 L1601.1 1109.4 L1602.8 1110.5 L1604.5 1117.9 L1606.2 1137.5 L1607.9 1158.7 L1609.6 1182.2 L1611.3 1208.3 L1613.0 1229.9 L1614.7 1251.3 L1616.4 1264.3 L1618.1 1278.1 L1619.8 1280.2 L1621.5 1288.7 L1623.2 1293.7 L1624.9 1295.5 L1626.6 1294.7 L1628.3 1295.7 L1630.0 1292.7 L1631.7 1289.7 L1633.4 1286.8 L1635.1 1286.4 L1636.8 1285.2 L1638.5 1282.0 L1640.2 1285.4 L1641.9 1293.2 L1643.6 1297.8 L1645.3 1298.1 L1647.0 1300.2 L1648.7 1303.1 L1650.4 1300.7 L1652.1 1297.6 L1653.8 1301.5 L1655.5 1296.2 L1657.2 1296.4 L1658.9 1298.6 L1660.6 1294.6 L1662.3 1303.3 L1664.0 1304.6 L1665.7 1298.7 L1667.4 1298.2 L1669.1 1294.3 L1670.8 1300.5 L1672.5 1297.3 L1674.2 1296.2 L1675.9 1295.5 L1677.6 1298.2 L1679.3 1297.9 L1681.0 1298.2 L1682.7 1297.1 L1684.4 1294.4 L1686.1 1301.4 L1687.8 1299.9 L1689.5 1296.0 L1691.2 1292.9 L1692.9 1290.5 L1694.6 1289.0 L1696.3 1281.1 L1698.0 1271.5 L1699.7 1263.1 L1701.4 1251.9 L1703.1 1251.6 L1704.8 1251.2 L1706.5 1256.7 L1708.2 1268.6 L1709.9 1278.3 L1711.6 1284.4 L1713.3 1295.8 L1715.0 1291.6 L1716.7 1296.5 L1718.4 1295.8 L1720.1 1290.1 L1721.8 1286.5 L1723.5 1284.1 L1725.2 1276.0 L1726.9 1276.1 L1728.6 1280.5 L1730.3 1286.4 L1732.0 1290.3 L1733.7 1289.4 L1735.4 1283.2 L1737.1 1283.8 L1738.8 1279.1 L1740.5 1279.2 L1742.2 1276.8 L1743.9 1281.2 L1745.6 1288.3 L1747.3 1293.2 L1749.0 1296.8 L1750.7 1295.8 L1752.4 1296.6 L1754.1 1300.1 L1755.8 1294.4 L1757.5 1296.8 L1759.2 1299.5 L1760.9 1301.3 L1762.6 1299.3 L1764.3 1300.9 L1766.0 1295.1 L1767.7 1290.5 L1769.4 1282.4 L1771.1 1271.2 L1772.8 1258.8 L1774.5 1254.0 L1776.2 1253.2 L1777.9 1256.9 L1779.6 1268.9 L1781.3 1276.7 L1783.0 1282.8 L1784.7 1291.8 L1786.4 1292.5 L1788.1 1298.0 L1789.8 1291.8 L1791.5 1293.7 L1793.2 1297.2 L1794.9 1298.1 L1796.6 1298.0 L1798.3 1301.3 L1800.0 1297.1 L1801.7 1299.1 L1803.4 1298.7 L1805.1 1295.4 L1806.8 1295.8 L1808.5 1296.1 L1810.2 1290.3 L1811.9 1286.5 L1813.6 1279.9 L1815.3 1274.7 L1817.0 1267.5 L1818.7 1261.0 L1820.4 1254.4 L1822.1 1253.4 L1823.8 1250.2 L1825.5 1252.9 L1827.2 1255.3 L1828.9 1260.6 L1830.6 1259.6 L1832.3 1258.4 L1834.0 1254.6 L1835.7 1254.7 L1837.4 1255.8 L1839.1 1250.6 L1840.8 1256.8 L1842.5 1262.2 L1844.2 1268.5 L1845.9 1276.8 L1847.6 1280.2 L1849.3 1287.2 L1851.0 1291.0 L1852.7 1296.1 L1854.4 1294.6 L1856.1 1296.9 L1857.8 1296.0 L1859.5 1297.6 L1861.2 1296.8 L1862.9 1295.1 L1864.6 1299.0 L1866.3 1300.2 L1868.0 1296.0 L1869.7 1298.5 L1871.4 1298.6 L1873.1 1294.3 L1874.8 1304.0 L1876.5 1303.1 L1878.2 1302.1 L1879.9 1301.6 L1881.6 1297.5 L1883.3 1294.0 L1885.0 1299.0 L1886.7 1299.1 L1888.4 1295.0 L1890.1 1300.3 L1891.8 1301.4 L1893.5 1300.7 L1895.2 1298.9 L1896.9 1297.5 L1898.6 1303.7 L1900.3 1300.6 L1902.0 1298.8 L1903.7 1295.9 L1905.4 1295.6 L1907.1 1293.0 L1908.8 1298.7 L1910.5 1300.1 L1912.2 1299.0 L1913.9 1299.7 L1915.6 1299.8 L1917.3 1301.1 L1919.0 1294.9 L1920.7 1295.5 L1922.4 1300.3 L1924.1 1297.4 L1925.8 1295.9 L1927.5 1289.9 L1929.2 1290.5 L1930.9 1279.0 L1932.6 1271.6 L1934.3 1261.5 L1936.0 1255.8 L1937.7 1250.5 L1939.4 1249.2 L1941.1 1255.6 L1942.8 1261.8 L1944.5 1267.5 L1946.2 1273.1 L1947.9 1277.4 L1949.6 1280.3 L1951.3 1272.3 L1953.0 1274.6 L1954.7 1269.6 L1956.4 1270.9 L1958.1 1266.7 L1959.8 1267.2 L1961.5 1271.5 L1963.2 1275.9 L1964.9 1281.5 L1966.6 1288.3 L1968.3 1287.9 L1970.0 1295.3 L1971.7 1293.5 L1973.4 1296.6 L1975.1 1297.1 L1976.8 1300.6 L1978.5 1302.3 L1980.2 1301.4 L1981.9 1296.5 L1983.6 1296.5 L1985.3 1296.0 L1987.0 1294.6 L1988.7 1293.8 L1990.4 1289.4 L1992.1 1283.2 L1993.8 1282.0 L1995.5 1272.3 L1997.2 1266.3 L1998.9 1255.0 L2000.6 1248.5 L2002.3 1241.4 L2004.0 1236.5 L2005.7 1232.4 L2007.4 1234.7 L2009.1 1234.8 L2010.8 1242.9 L2012.5 1251.9 L2014.2 1258.7 L2015.9 1265.0 L2017.6 1271.2 L2019.3 1280.1 L2021.0 1282.0 L2022.7 1286.0 L2024.4 1288.9 L2026.1 1294.9 L2027.8 1292.9 L2029.5 1297.6 L2031.2 1297.5 L2032.9 1294.9 L2034.6 1290.0 L2036.3 1285.8 L2038.0 1275.5 L2039.7 1269.4 L2041.4 1262.7 L2043.1 1253.6 L2044.8 1243.0 L2046.5 1241.6 L2048.2 1244.9 L2049.9 1253.6 L2051.6 1261.2 L2053.3 1269.9 L2055.0 1277.3 L2056.7 1290.6 L2058.4 1291.0 L2060.1 1294.7 L2061.8 1296.4 L2063.5 1295.3 L2065.2 1299.5 L2066.9 1300.0 L2068.6 1299.9 L2070.3 1299.7 L2072.0 1302.1 L2073.7 1301.8 L2075.4 1303.4 L2077.1 1301.3 L2078.8 1301.8 L2080.5 1300.4 L2082.2 1297.8 L2083.9 1297.4 L2085.6 1301.5 L2087.3 1300.9 L2089.0 1301.6 L2090.7 1295.3 L2092.4 1299.9 L2094.1 1300.4 L2095.8 1299.4 L2097.5 1299.6 L2099.2 1296.6 L2100.9 1300.4 L2102.6 1304.1 L2104.3 1298.4 L2106.0 1302.6 L2107.7 1299.6 L2109.4 1301.4 L2111.1 1303.5 L2112.8 1300.2 L2114.5 1300.9 L2116.2 1301.8 L2117.9 1300.1 L2119.6 1303.0 L2121.3 1296.0 L2123.0 1299.5 L2124.7 1295.4 L2126.4 1296.1 L2128.1 1299.3 L2129.8 1296.4 L2131.5 1297.5 L2133.2 1301.5 L2134.9 1299.8 L2136.6 1307.9 L2138.3 1299.2 L2140.0 1299.6 L2141.7 1293.4 L2143.4 1299.4 L2145.1 1298.4 L2146.8 1300.3 L2148.5 1298.6 L2150.2 1290.6 L2151.9 1286.5 L2153.6 1285.9 L2155.3 1282.0 L2157.0 1284.8 L2158.7 1295.3 L2160.4 1293.4 L2162.1 1297.1 L2163.8 1293.5 L2165.5 1295.8 L2167.2 1290.8 L2168.9 1297.2 L2170.6 1288.8 L2172.3 1283.0 L2174.0 1279.7 L2175.7 1279.1 L2177.4 1281.1 L2179.1 1282.9 L2180.8 1284.3 L2182.5 1291.3 L2184.2 1291.1 L2185.9 1296.3 L2187.6 1299.2 L2189.3 1296.6 L2191.0 1300.8 L2192.7 1298.6 L2194.4 1305.0 L2196.1 1298.8 L2197.8 1300.6 L2199.5 1300.9 L2201.2 1300.4 L2202.9 1297.8 L2204.6 1299.8 L2206.3 1300.7 L2208.0 1301.0 L2209.7 1302.5 L2211.4 1303.2 L2213.1 1300.2 L2214.8 1302.7 L2216.5 1299.2 L2218.2 1296.6 L2219.9 1297.9 L2221.6 1297.6 L2223.3 1298.3 L2225.0 1298.6 L2226.7 1298.0 L2228.4 1299.3 L2230.1 1297.6 L2231.8 1294.2 L2233.5 1295.8 L2235.2 1293.1 L2236.9 1294.3 L2238.6 1294.9 L2240.3 1291.1 L2242.0 1292.0 L2243.7 1292.7 L2245.4 1289.3 L2247.1 1285.0 L2248.8 1286.5 L2250.5 1284.5 L2252.2 1289.8 L2253.9 1286.5 L2255.6 1286.9 L2257.3 1289.8 L2259.0 1287.4 L2260.7 1286.8 L2262.4 1283.3 L2264.1 1286.6 L2265.8 1287.4 L2267.5 1289.4 L2269.2 1287.6 L2270.9 1292.5 L2272.6 1294.8 L2274.3 1292.4 L2276.0 1290.4 L2277.7 1294.5 L2279.4 1294.7 L2281.1 1297.8 L2282.8 1296.3 L2284.5 1295.4 L2286.2 1294.3 L2287.9 1297.9 L2289.6 1292.7 L2291.3 1295.9 L2293.0 1300.1 L2294.7 1298.4 L2296.4 1298.9 L2298.1 1298.7 L2299.8 1295.0 L2301.5 1297.9 L2303.2 1299.6 L2304.9 1299.1 L2306.6 1294.8 L2308.3 1295.9 L2310.0 1296.4 L2311.7 1293.3 L2313.4 1293.6 L2315.1 1288.2 L2316.8 1280.6 L2318.5 1283.7 L2320.2 1283.1 L2321.9 1284.0 L2323.6 1281.4 L2325.3 1287.7 L2327.0 1287.8 L2328.7 1289.2 L2330.4 1289.7 L2332.1 1292.5 L2333.8 1297.7 L2335.5 1300.5 L2337.2 1297.8 L2338.9 1298.4" stroke="#ff0a0a" stroke-width="3.1"/>
<path d="M151.0 1624.8 L152.7 1625.0 L154.4 1624.3 L156.1 1609.6 L157.8 1613.3 L159.5 1623.3 L161.2 1627.3 L162.9 1613.2 L164.6 1623.8 L166.3 1622.3 L168.0 1613.0 L169.7 1600.3 L171.4 1590.8 L173.1 1571.6 L174.8 1552.7 L176.5 1537.6 L178.2 1533.1 L179.9 1550.9 L181.6 1573.0 L183.3 1592.1 L185.0 1608.7 L186.7 1610.2 L188.4 1613.4 L190.1 1607.2 L191.8 1614.8 L193.5 1610.3 L195.2 1623.1 L196.9 1615.5 L198.6 1618.6 L200.3 1618.6 L202.0 1613.2 L203.7 1616.5 L205.4 1618.6 L207.1 1621.4 L208.8 1618.9 L210.5 1612.8 L212.2 1618.6 L213.9 1619.3 L215.6 1611.9 L217.3 1623.0 L219.0 1623.5 L220.7 1615.1 L222.4 1630.6 L224.1 1619.7 L225.8 1614.8 L227.5 1625.9 L229.2 1613.1 L230.9 1617.5 L232.6 1609.4 L234.3 1611.8 L236.0 1624.9 L237.7 1612.3 L239.4 1612.7 L241.1 1616.6 L242.8 1613.3 L244.5 1611.4 L246.2 1611.9 L247.9 1615.2 L249.6 1624.5 L251.3 1621.0 L253.0 1628.5 L254.7 1614.3 L256.4 1618.8 L258.1 1620.2 L259.8 1621.9 L261.5 1622.1 L263.2 1609.0 L264.9 1623.8 L266.6 1616.0 L268.3 1614.4 L270.0 1621.2 L271.7 1614.6 L273.4 1611.2 L275.1 1614.9 L276.8 1608.0 L278.5 1611.5 L280.2 1620.7 L281.9 1620.1 L283.6 1611.9 L285.3 1606.2 L287.0 1619.2 L288.7 1621.2 L290.4 1619.8 L292.1 1616.5 L293.8 1621.9 L295.5 1619.7 L297.2 1621.9 L298.9 1623.3 L300.6 1619.5 L302.3 1618.2 L304.0 1622.5 L305.7 1620.4 L307.4 1614.2 L309.1 1617.4 L310.8 1621.8 L312.5 1620.7 L314.2 1616.9 L315.9 1617.4 L317.6 1612.5 L319.3 1619.2 L321.0 1626.3 L322.7 1621.3 L324.4 1613.4 L326.1 1624.1 L327.8 1623.1 L329.5 1625.7 L331.2 1617.5 L332.9 1620.5 L334.6 1625.7 L336.3 1626.5 L338.0 1618.6 L339.7 1618.2 L341.4 1629.4 L343.1 1621.3 L344.8 1618.1 L346.5 1619.6 L348.2 1604.5 L349.9 1611.6 L351.6 1618.8 L353.3 1616.5 L355.0 1616.3 L356.7 1619.2 L358.4 1615.8 L360.1 1617.7 L361.8 1611.4 L363.5 1624.4 L365.2 1626.4 L366.9 1614.2 L368.6 1613.6 L370.3 1622.1 L372.0 1625.5 L373.7 1617.7 L375.4 1613.6 L377.1 1628.2 L378.8 1614.7 L380.5 1618.4 L382.2 1617.5 L383.9 1617.4 L385.6 1621.4 L387.3 1622.2 L389.0 1607.8 L390.7 1614.1 L392.4 1620.8 L394.1 1616.3 L395.8 1613.8 L397.5 1620.3 L399.2 1615.6 L400.9 1617.9 L402.6 1623.3 L404.3 1622.5 L406.0 1630.2 L407.7 1625.2 L409.4 1623.1 L411.1 1619.4 L412.8 1623.2 L414.5 1624.6 L416.2 1624.8 L417.9 1621.6 L419.6 1619.5 L421.3 1622.3 L423.0 1622.5 L424.7 1618.4 L426.4 1625.2 L428.1 1622.2 L429.8 1620.6 L431.5 1619.3 L433.2 1615.0 L434.9 1615.2 L436.6 1627.8 L438.3 1619.2 L440.0 1622.2 L441.7 1627.5 L443.4 1613.8 L445.1 1616.6 L446.8 1615.5 L448.5 1620.3 L450.2 1619.1 L451.9 1612.9 L453.6 1621.7 L455.3 1619.8 L457.0 1606.3 L458.7 1610.5 L460.4 1601.9 L462.1 1584.5 L463.8 1580.0 L465.5 1582.5 L467.2 1579.4 L468.9 1583.4 L470.6 1599.7 L472.3 1598.6 L474.0 1611.4 L475.7 1615.8 L477.4 1622.4 L479.1 1617.7 L480.8 1615.6 L482.5 1614.9 L484.2 1612.3 L485.9 1622.8 L487.6 1612.9 L489.3 1629.9 L491.0 1617.9 L492.7 1616.7 L494.4 1613.3 L496.1 1612.1 L497.8 1619.9 L499.5 1622.7 L501.2 1619.2 L502.9 1614.3 L504.6 1624.4 L506.3 1607.9 L508.0 1619.3 L509.7 1623.1 L511.4 1623.6 L513.1 1617.6 L514.8 1619.6 L516.5 1625.8 L518.2 1615.6 L519.9 1622.7 L521.6 1618.4 L523.3 1623.5 L525.0 1612.8 L526.7 1623.0 L528.4 1624.3 L530.1 1623.2 L531.8 1617.8 L533.5 1607.4 L535.2 1617.3 L536.9 1605.1 L538.6 1616.1 L540.3 1615.8 L542.0 1618.2 L543.7 1613.0 L545.4 1618.4 L547.1 1614.3 L548.8 1609.9 L550.5 1614.1 L552.2 1623.3 L553.9 1616.7 L555.6 1618.4 L557.3 1625.0 L559.0 1623.5 L560.7 1624.9 L562.4 1613.3 L564.1 1616.6 L565.8 1633.2 L567.5 1621.9 L569.2 1616.3 L570.9 1626.6 L572.6 1620.7 L574.3 1610.2 L576.0 1618.7 L577.7 1614.0 L579.4 1609.9 L581.1 1606.9 L582.8 1595.1 L584.5 1589.9 L586.2 1585.8 L587.9 1587.7 L589.6 1596.3 L591.3 1608.9 L593.0 1611.5 L594.7 1613.8 L596.4 1605.9 L598.1 1601.3 L599.8 1603.1 L601.5 1595.9 L603.2 1604.7 L604.9 1612.7 L606.6 1611.4 L608.3 1624.7 L610.0 1621.6 L611.7 1613.7 L613.4 1626.8 L615.1 1619.8 L616.8 1623.4 L618.5 1615.8 L620.2 1620.2 L621.9 1616.3 L623.6 1618.0 L625.3 1613.8 L627.0 1615.5 L628.7 1614.7 L630.4 1609.2 L632.1 1615.2 L633.8 1620.7 L635.5 1612.4 L637.2 1612.8 L638.9 1625.4 L640.6 1609.9 L642.3 1616.6 L644.0 1619.4 L645.7 1619.7 L647.4 1617.7 L649.1 1614.6 L650.8 1604.7 L652.5 1597.8 L654.2 1589.4 L655.9 1604.7 L657.6 1597.9 L659.3 1606.8 L661.0 1606.9 L662.7 1616.4 L664.4 1611.9 L666.1 1616.6 L667.8 1622.7 L669.5 1630.4 L671.2 1624.3 L672.9 1631.2 L674.6 1622.5 L676.3 1620.8 L678.0 1627.8 L679.7 1620.7 L681.4 1608.0 L683.1 1620.3 L684.8 1617.5 L686.5 1616.4 L688.2 1616.8 L689.9 1611.7 L691.6 1610.6 L693.3 1600.1 L695.0 1601.7 L696.7 1584.2 L698.4 1569.9 L700.1 1533.2 L701.8 1484.3 L703.5 1426.8 L705.2 1355.9 L706.9 1284.0 L708.6 1229.1 L710.3 1197.2 L712.0 1202.8 L713.7 1235.4 L715.4 1295.7 L717.1 1370.1 L718.8 1440.3 L720.5 1490.4 L722.2 1544.7 L723.9 1572.5 L725.6 1582.1 L727.3 1590.5 L729.0 1604.6 L730.7 1608.3 L732.4 1605.4 L734.1 1610.1 L735.8 1600.5 L737.5 1590.4 L739.2 1568.8 L740.9 1525.0 L742.6 1466.1 L744.3 1385.7 L746.0 1275.7 L747.7 1149.2 L749.4 1025.1 L751.1 921.3 L752.8 865.9 L754.5 872.4 L756.2 937.9 L757.9 1044.1 L759.6 1171.9 L761.3 1296.1 L763.0 1401.8 L764.7 1480.8 L766.4 1534.4 L768.1 1560.4 L769.8 1580.4 L771.5 1595.7 L773.2 1601.6 L774.9 1605.3 L776.6 1610.9 L778.3 1613.2 L780.0 1619.1 L781.7 1600.7 L783.4 1603.3 L785.1 1597.7 L786.8 1597.7 L788.5 1592.1 L790.2 1585.8 L791.9 1572.1 L793.6 1549.4 L795.3 1519.8 L797.0 1479.9 L798.7 1427.3 L800.4 1365.4 L802.1 1303.4 L803.8 1239.2 L805.5 1193.1 L807.2 1167.1 L808.9 1161.5 L810.6 1182.9 L812.3 1225.8 L814.0 1282.1 L815.7 1346.6 L817.4 1408.8 L819.1 1456.9 L820.8 1501.8 L822.5 1537.6 L824.2 1564.7 L825.9 1583.5 L827.6 1590.6 L829.3 1598.9 L831.0 1598.0 L832.7 1601.1 L834.4 1592.3 L836.1 1604.1 L837.8 1600.9 L839.5 1596.4 L841.2 1599.7 L842.9 1593.4 L844.6 1601.7 L846.3 1599.0 L848.0 1591.4 L849.7 1580.3 L851.4 1574.0 L853.1 1576.3 L854.8 1564.6 L856.5 1564.5 L858.2 1536.0 L859.9 1499.9 L861.6 1447.6 L863.3 1355.3 L865.0 1207.3 L866.7 1015.0 L868.4 776.6 L870.1 526.6 L871.8 322.3 L873.5 236.3 L875.2 305.5 L876.9 499.9 L878.6 747.4 L880.3 987.9 L882.0 1186.5 L883.7 1335.9 L885.4 1435.1 L887.1 1494.4 L888.8 1533.7 L890.5 1558.1 L892.2 1569.3 L893.9 1573.6 L895.6 1575.6 L897.3 1587.7 L899.0 1592.9 L900.7 1592.1 L902.4 1593.7 L904.1 1595.8 L905.8 1593.4 L907.5 1583.9 L909.2 1587.8 L910.9 1577.6 L912.6 1578.6 L914.3 1580.8 L916.0 1592.9 L917.7 1589.8 L919.4 1603.8 L921.1 1607.5 L922.8 1606.7 L924.5 1607.0 L926.2 1603.6 L927.9 1613.8 L929.6 1612.4 L931.3 1613.2 L933.0 1610.1 L934.7 1617.6 L936.4 1625.1 L938.1 1613.8 L939.8 1618.6 L941.5 1604.3 L943.2 1624.0 L944.9 1623.7 L946.6 1614.9 L948.3 1627.5 L950.0 1606.4 L951.7 1619.2 L953.4 1608.5 L955.1 1613.0 L956.8 1610.9 L958.5 1616.1 L960.2 1610.8 L961.9 1608.6 L963.6 1607.1 L965.3 1591.4 L967.0 1590.5 L968.7 1585.7 L970.4 1583.1 L972.1 1578.1 L973.8 1571.6 L975.5 1583.1 L977.2 1580.2 L978.9 1592.1 L980.6 1598.5 L982.3 1610.3 L984.0 1610.0 L985.7 1614.3 L987.4 1618.6 L989.1 1618.0 L990.8 1619.2 L992.5 1615.9 L994.2 1618.5 L995.9 1622.9 L997.6 1620.2 L999.3 1617.8 L1001.0 1619.0 L1002.7 1610.0 L1004.4 1623.2 L1006.1 1625.7 L1007.8 1623.8 L1009.5 1612.0 L1011.2 1616.4 L1012.9 1616.8 L1014.6 1620.7 L1016.3 1617.8 L1018.0 1626.2 L1019.7 1623.2 L1021.4 1620.9 L1023.1 1629.0 L1024.8 1626.8 L1026.5 1621.1 L1028.2 1616.4 L1029.9 1618.7 L1031.6 1614.4 L1033.3 1608.2 L1035.0 1618.2 L1036.7 1614.2 L1038.4 1603.0 L1040.1 1598.6 L1041.8 1600.2 L1043.5 1594.8 L1045.2 1597.8 L1046.9 1590.7 L1048.6 1590.9 L1050.3 1590.7 L1052.0 1591.6 L1053.7 1588.3 L1055.4 1594.4 L1057.1 1593.6 L1058.8 1596.7 L1060.5 1601.9 L1062.2 1595.4 L1063.9 1600.8 L1065.6 1606.5 L1067.3 1608.3 L1069.0 1612.5 L1070.7 1616.9 L1072.4 1614.7 L1074.1 1615.4 L1075.8 1613.6 L1077.5 1616.0 L1079.2 1615.2 L1080.9 1628.6 L1082.6 1611.8 L1084.3 1620.6 L1086.0 1620.0 L1087.7 1620.3 L1089.4 1618.1 L1091.1 1619.9 L1092.8 1623.0 L1094.5 1615.7 L1096.2 1625.4 L1097.9 1621.0 L1099.6 1626.4 L1101.3 1621.9 L1103.0 1621.2 L1104.7 1622.8 L1106.4 1628.2 L1108.1 1619.3 L1109.8 1626.4 L1111.5 1622.1 L1113.2 1613.6 L1114.9 1621.0 L1116.6 1639.2 L1118.3 1621.8 L1120.0 1616.1 L1121.7 1626.6 L1123.4 1609.4 L1125.1 1627.3 L1126.8 1622.1 L1128.5 1630.0 L1130.2 1626.8 L1131.9 1624.9 L1133.6 1619.6 L1135.3 1624.7 L1137.0 1635.0 L1138.7 1637.9 L1140.4 1628.6 L1142.1 1624.8 L1143.8 1630.1 L1145.5 1625.2 L1147.2 1619.5 L1148.9 1625.3 L1150.6 1618.5 L1152.3 1624.3 L1154.0 1625.7 L1155.7 1629.3 L1157.4 1634.3 L1159.1 1626.9 L1160.8 1628.8 L1162.5 1622.9 L1164.2 1627.7 L1165.9 1624.8 L1167.6 1622.8 L1169.3 1620.7 L1171.0 1615.9 L1172.7 1612.6 L1174.4 1626.7 L1176.1 1613.4 L1177.8 1614.6 L1179.5 1612.2 L1181.2 1607.4 L1182.9 1618.9 L1184.6 1611.7 L1186.3 1608.1 L1188.0 1609.1 L1189.7 1612.7 L1191.4 1617.6 L1193.1 1611.1 L1194.8 1625.2 L1196.5 1607.9 L1198.2 1619.8 L1199.9 1606.3 L1201.6 1613.8 L1203.3 1616.9 L1205.0 1610.3 L1206.7 1615.9 L1208.4 1613.9 L1210.1 1611.5 L1211.8 1618.2 L1213.5 1610.4 L1215.2 1618.7 L1216.9 1611.5 L1218.6 1612.5 L1220.3 1610.1 L1222.0 1606.7 L1223.7 1609.4 L1225.4 1604.5 L1227.1 1609.9 L1228.8 1599.8 L1230.5 1605.6 L1232.2 1602.8 L1233.9 1612.4 L1235.6 1605.9 L1237.3 1599.7 L1239.0 1595.6 L1240.7 1602.6 L1242.4 1604.1 L1244.1 1613.3 L1245.8 1617.5 L1247.5 1608.5 L1249.2 1606.8 L1250.9 1615.0 L1252.6 1603.0 L1254.3 1604.8 L1256.0 1613.2 L1257.7 1604.9 L1259.4 1602.0 L1261.1 1598.5 L1262.8 1587.0 L1264.5 1576.5 L1266.2 1560.4 L1267.9 1530.3 L1269.6 1501.0 L1271.3 1461.1 L1273.0 1408.0 L1274.7 1349.2 L1276.4 1299.8 L1278.1 1254.1 L1279.8 1221.1 L1281.5 1211.9 L1283.2 1221.5 L1284.9 1252.8 L1286.6 1298.1 L1288.3 1350.0 L1290.0 1405.2 L1291.7 1456.6 L1293.4 1495.6 L1295.1 1536.5 L1296.8 1553.6 L1298.5 1568.1 L1300.2 1586.1 L1301.9 1587.8 L1303.6 1591.1 L1305.3 1595.4 L1307.0 1605.9 L1308.7 1597.9 L1310.4 1604.4 L1312.1 1604.5 L1313.8 1602.4 L1315.5 1603.1 L1317.2 1601.6 L1318.9 1606.8 L1320.6 1605.0 L1322.3 1599.9 L1324.0 1613.4 L1325.7 1610.8 L1327.4 1612.5 L1329.1 1614.0 L1330.8 1601.2 L1332.5 1605.9 L1334.2 1607.1 L1335.9 1601.9 L1337.6 1598.9 L1339.3 1604.5 L1341.0 1614.1 L1342.7 1608.1 L1344.4 1602.5 L1346.1 1603.8 L1347.8 1606.6 L1349.5 1606.6 L1351.2 1618.1 L1352.9 1607.9 L1354.6 1605.3 L1356.3 1615.3 L1358.0 1616.0 L1359.7 1618.8 L1361.4 1608.9 L1363.1 1611.3 L1364.8 1617.2 L1366.5 1614.1 L1368.2 1616.3 L1369.9 1607.9 L1371.6 1603.7 L1373.3 1609.0 L1375.0 1603.6 L1376.7 1596.0 L1378.4 1610.0 L1380.1 1611.7 L1381.8 1600.6 L1383.5 1609.8 L1385.2 1603.6 L1386.9 1604.6 L1388.6 1608.7 L1390.3 1607.3 L1392.0 1603.3 L1393.7 1618.8 L1395.4 1608.3 L1397.1 1612.7 L1398.8 1604.1 L1400.5 1608.9 L1402.2 1602.0 L1403.9 1594.0 L1405.6 1587.5 L1407.3 1585.3 L1409.0 1574.2 L1410.7 1565.3 L1412.4 1569.9 L1414.1 1576.6 L1415.8 1595.2 L1417.5 1606.8 L1419.2 1604.7 L1420.9 1621.9 L1422.6 1615.0 L1424.3 1623.8 L1426.0 1630.8 L1427.7 1617.0 L1429.4 1619.3 L1431.1 1618.3 L1432.8 1623.2 L1434.5 1617.3 L1436.2 1633.7 L1437.9 1631.0 L1439.6 1628.0 L1441.3 1626.6 L1443.0 1629.7 L1444.7 1621.0 L1446.4 1621.5 L1448.1 1624.8 L1449.8 1627.6 L1451.5 1617.5 L1453.2 1611.7 L1454.9 1613.0 L1456.6 1616.2 L1458.3 1613.0 L1460.0 1608.4 L1461.7 1594.7 L1463.4 1588.0 L1465.1 1603.0 L1466.8 1592.2 L1468.5 1606.5 L1470.2 1605.9 L1471.9 1608.6 L1473.6 1617.7 L1475.3 1618.2 L1477.0 1616.7 L1478.7 1627.5 L1480.4 1624.8 L1482.1 1633.0 L1483.8 1630.0 L1485.5 1629.7 L1487.2 1625.1 L1488.9 1623.2 L1490.6 1633.5 L1492.3 1627.4 L1494.0 1630.4 L1495.7 1618.9 L1497.4 1625.3 L1499.1 1627.4 L1500.8 1632.4 L1502.5 1622.0 L1504.2 1626.4 L1505.9 1630.7 L1507.6 1632.8 L1509.3 1624.1 L1511.0 1622.0 L1512.7 1628.0 L1514.4 1624.8 L1516.1 1630.3 L1517.8 1627.0 L1519.5 1618.6 L1521.2 1613.9 L1522.9 1602.4 L1524.6 1595.3 L1526.3 1587.0 L1528.0 1570.6 L1529.7 1554.3 L1531.4 1534.9 L1533.1 1511.3 L1534.8 1496.5 L1536.5 1491.9 L1538.2 1487.7 L1539.9 1484.2 L1541.6 1490.7 L1543.3 1496.7 L1545.0 1517.6 L1546.7 1523.4 L1548.4 1543.3 L1550.1 1557.6 L1551.8 1576.8 L1553.5 1581.6 L1555.2 1602.8 L1556.9 1604.5 L1558.6 1603.6 L1560.3 1607.2 L1562.0 1616.6 L1563.7 1612.2 L1565.4 1621.8 L1567.1 1614.2 L1568.8 1623.8 L1570.5 1612.2 L1572.2 1618.6 L1573.9 1613.5 L1575.6 1611.7 L1577.3 1607.1 L1579.0 1608.3 L1580.7 1596.2 L1582.4 1579.2 L1584.1 1562.9 L1585.8 1537.4 L1587.5 1497.9 L1589.2 1451.4 L1590.9 1385.1 L1592.6 1308.7 L1594.3 1224.1 L1596.0 1129.2 L1597.7 1037.7 L1599.4 952.0 L1601.1 880.3 L1602.8 837.9 L1604.5 825.1 L1606.2 846.1 L1607.9 895.8 L1609.6 970.4 L1611.3 1058.1 L1613.0 1153.6 L1614.7 1244.2 L1616.4 1332.3 L1618.1 1399.7 L1619.8 1459.1 L1621.5 1509.4 L1623.2 1546.4 L1624.9 1568.3 L1626.6 1573.8 L1628.3 1590.8 L1630.0 1604.5 L1631.7 1608.6 L1633.4 1612.3 L1635.1 1611.9 L1636.8 1613.3 L1638.5 1615.4 L1640.2 1620.7 L1641.9 1620.9 L1643.6 1616.4 L1645.3 1621.0 L1647.0 1620.3 L1648.7 1615.3 L1650.4 1625.1 L1652.1 1622.8 L1653.8 1618.8 L1655.5 1620.8 L1657.2 1606.8 L1658.9 1626.9 L1660.6 1619.0 L1662.3 1618.7 L1664.0 1617.1 L1665.7 1623.7 L1667.4 1623.9 L1669.1 1626.4 L1670.8 1617.4 L1672.5 1630.1 L1674.2 1616.7 L1675.9 1617.2 L1677.6 1639.8 L1679.3 1620.8 L1681.0 1609.1 L1682.7 1617.9 L1684.4 1619.2 L1686.1 1614.3 L1687.8 1617.5 L1689.5 1619.8 L1691.2 1610.9 L1692.9 1609.6 L1694.6 1612.4 L1696.3 1604.6 L1698.0 1599.6 L1699.7 1595.6 L1701.4 1591.6 L1703.1 1583.6 L1704.8 1579.1 L1706.5 1580.7 L1708.2 1565.2 L1709.9 1558.4 L1711.6 1569.3 L1713.3 1572.7 L1715.0 1577.8 L1716.7 1591.3 L1718.4 1602.1 L1720.1 1603.8 L1721.8 1614.8 L1723.5 1611.1 L1725.2 1614.3 L1726.9 1623.4 L1728.6 1623.2 L1730.3 1624.1 L1732.0 1621.2 L1733.7 1625.6 L1735.4 1616.6 L1737.1 1622.1 L1738.8 1630.2 L1740.5 1620.3 L1742.2 1622.9 L1743.9 1617.3 L1745.6 1612.4 L1747.3 1610.9 L1749.0 1614.0 L1750.7 1621.9 L1752.4 1623.1 L1754.1 1624.7 L1755.8 1626.3 L1757.5 1629.9 L1759.2 1626.5 L1760.9 1621.6 L1762.6 1626.5 L1764.3 1619.6 L1766.0 1629.0 L1767.7 1635.3 L1769.4 1624.1 L1771.1 1625.1 L1772.8 1624.9 L1774.5 1614.7 L1776.2 1618.6 L1777.9 1614.9 L1779.6 1600.8 L1781.3 1601.8 L1783.0 1600.0 L1784.7 1598.1 L1786.4 1611.6 L1788.1 1621.5 L1789.8 1621.4 L1791.5 1626.6 L1793.2 1620.4 L1794.9 1622.8 L1796.6 1624.4 L1798.3 1627.4 L1800.0 1626.9 L1801.7 1623.8 L1803.4 1623.3 L1805.1 1617.8 L1806.8 1608.8 L1808.5 1602.9 L1810.2 1586.2 L1811.9 1579.9 L1813.6 1551.7 L1815.3 1531.4 L1817.0 1502.0 L1818.7 1480.4 L1820.4 1449.4 L1822.1 1419.2 L1823.8 1395.4 L1825.5 1379.8 L1827.2 1370.0 L1828.9 1370.9 L1830.6 1378.5 L1832.3 1398.1 L1834.0 1423.7 L1835.7 1448.6 L1837.4 1478.4 L1839.1 1506.0 L1840.8 1528.0 L1842.5 1551.8 L1844.2 1567.7 L1845.9 1580.5 L1847.6 1586.4 L1849.3 1611.6 L1851.0 1608.9 L1852.7 1616.7 L1854.4 1620.0 L1856.1 1616.7 L1857.8 1623.2 L1859.5 1624.5 L1861.2 1620.4 L1862.9 1619.4 L1864.6 1623.8 L1866.3 1622.1 L1868.0 1618.6 L1869.7 1620.4 L1871.4 1613.7 L1873.1 1624.1 L1874.8 1620.3 L1876.5 1614.7 L1878.2 1623.2 L1879.9 1616.8 L1881.6 1620.8 L1883.3 1619.5 L1885.0 1617.1 L1886.7 1628.2 L1888.4 1621.8 L1890.1 1621.8 L1891.8 1627.9 L1893.5 1625.2 L1895.2 1624.0 L1896.9 1624.6 L1898.6 1616.8 L1900.3 1629.3 L1902.0 1616.6 L1903.7 1629.5 L1905.4 1624.9 L1907.1 1619.4 L1908.8 1618.4 L1910.5 1613.6 L1912.2 1614.3 L1913.9 1627.5 L1915.6 1624.4 L1917.3 1624.5 L1919.0 1625.2 L1920.7 1614.0 L1922.4 1623.6 L1924.1 1616.8 L1925.8 1612.1 L1927.5 1617.4 L1929.2 1617.9 L1930.9 1625.3 L1932.6 1614.4 L1934.3 1612.3 L1936.0 1613.5 L1937.7 1614.7 L1939.4 1596.5 L1941.1 1600.8 L1942.8 1600.9 L1944.5 1600.8 L1946.2 1597.1 L1947.9 1603.0 L1949.6 1604.1 L1951.3 1608.9 L1953.0 1613.7 L1954.7 1613.6 L1956.4 1621.5 L1958.1 1621.7 L1959.8 1625.7 L1961.5 1628.6 L1963.2 1622.7 L1964.9 1616.6 L1966.6 1611.9 L1968.3 1597.6 L1970.0 1603.5 L1971.7 1599.8 L1973.4 1596.5 L1975.1 1603.1 L1976.8 1598.9 L1978.5 1611.1 L1980.2 1606.6 L1981.9 1605.2 L1983.6 1608.2 L1985.3 1605.7 L1987.0 1594.2 L1988.7 1581.1 L1990.4 1580.0 L1992.1 1552.0 L1993.8 1529.3 L1995.5 1500.1 L1997.2 1468.2 L1998.9 1427.2 L2000.6 1390.4 L2002.3 1357.7 L2004.0 1326.4 L2005.7 1305.3 L2007.4 1293.7 L2009.1 1301.9 L2010.8 1317.8 L2012.5 1349.7 L2014.2 1379.8 L2015.9 1416.8 L2017.6 1457.8 L2019.3 1495.5 L2021.0 1520.0 L2022.7 1544.0 L2024.4 1567.9 L2026.1 1575.5 L2027.8 1586.7 L2029.5 1585.9 L2031.2 1581.6 L2032.9 1583.9 L2034.6 1573.8 L2036.3 1557.7 L2038.0 1534.6 L2039.7 1517.6 L2041.4 1496.6 L2043.1 1473.0 L2044.8 1459.7 L2046.5 1453.9 L2048.2 1454.3 L2049.9 1462.1 L2051.6 1471.8 L2053.3 1491.9 L2055.0 1516.2 L2056.7 1536.5 L2058.4 1555.1 L2060.1 1576.6 L2061.8 1591.6 L2063.5 1606.0 L2065.2 1609.4 L2066.9 1609.8 L2068.6 1624.9 L2070.3 1618.4 L2072.0 1627.2 L2073.7 1623.3 L2075.4 1621.9 L2077.1 1631.1 L2078.8 1623.5 L2080.5 1614.6 L2082.2 1621.5 L2083.9 1622.2 L2085.6 1627.8 L2087.3 1622.3 L2089.0 1621.0 L2090.7 1620.3 L2092.4 1617.6 L2094.1 1622.3 L2095.8 1625.0 L2097.5 1625.2 L2099.2 1623.8 L2100.9 1615.7 L2102.6 1621.9 L2104.3 1625.5 L2106.0 1624.8 L2107.7 1629.5 L2109.4 1628.3 L2111.1 1626.7 L2112.8 1637.8 L2114.5 1623.3 L2116.2 1620.3 L2117.9 1624.2 L2119.6 1613.2 L2121.3 1617.1 L2123.0 1602.4 L2124.7 1605.0 L2126.4 1604.9 L2128.1 1601.0 L2129.8 1580.4 L2131.5 1578.5 L2133.2 1577.5 L2134.9 1569.6 L2136.6 1570.4 L2138.3 1571.6 L2140.0 1578.1 L2141.7 1572.5 L2143.4 1581.3 L2145.1 1577.6 L2146.8 1591.1 L2148.5 1591.6 L2150.2 1594.9 L2151.9 1594.2 L2153.6 1598.1 L2155.3 1602.4 L2157.0 1593.2 L2158.7 1605.5 L2160.4 1609.0 L2162.1 1604.2 L2163.8 1603.1 L2165.5 1606.2 L2167.2 1615.1 L2168.9 1604.4 L2170.6 1603.5 L2172.3 1617.6 L2174.0 1616.5 L2175.7 1615.6 L2177.4 1619.0 L2179.1 1617.0 L2180.8 1628.3 L2182.5 1625.4 L2184.2 1622.1 L2185.9 1617.9 L2187.6 1618.9 L2189.3 1619.4 L2191.0 1627.4 L2192.7 1624.9 L2194.4 1622.0 L2196.1 1624.9 L2197.8 1629.8 L2199.5 1624.4 L2201.2 1628.9 L2202.9 1619.2 L2204.6 1622.8 L2206.3 1627.8 L2208.0 1621.9 L2209.7 1621.8 L2211.4 1611.5 L2213.1 1638.2 L2214.8 1625.9 L2216.5 1619.8 L2218.2 1622.7 L2219.9 1626.0 L2221.6 1630.4 L2223.3 1614.9 L2225.0 1611.3 L2226.7 1629.0 L2228.4 1632.2 L2230.1 1624.9 L2231.8 1621.1 L2233.5 1621.0 L2235.2 1623.2 L2236.9 1622.5 L2238.6 1626.8 L2240.3 1610.8 L2242.0 1618.9 L2243.7 1611.3 L2245.4 1605.6 L2247.1 1588.7 L2248.8 1593.8 L2250.5 1574.2 L2252.2 1571.3 L2253.9 1563.3 L2255.6 1559.5 L2257.3 1558.2 L2259.0 1554.8 L2260.7 1562.0 L2262.4 1565.7 L2264.1 1574.4 L2265.8 1579.5 L2267.5 1583.4 L2269.2 1596.6 L2270.9 1597.1 L2272.6 1602.7 L2274.3 1610.1 L2276.0 1616.3 L2277.7 1617.6 L2279.4 1616.2 L2281.1 1624.6 L2282.8 1624.5 L2284.5 1614.7 L2286.2 1626.3 L2287.9 1623.1 L2289.6 1620.7 L2291.3 1621.4 L2293.0 1621.7 L2294.7 1623.8 L2296.4 1626.5 L2298.1 1630.0 L2299.8 1620.5 L2301.5 1633.3 L2303.2 1620.8 L2304.9 1628.0 L2306.6 1615.3 L2308.3 1613.8 L2310.0 1607.2 L2311.7 1608.3 L2313.4 1591.5 L2315.1 1572.3 L2316.8 1568.6 L2318.5 1562.6 L2320.2 1552.4 L2321.9 1550.3 L2323.6 1542.8 L2325.3 1545.9 L2327.0 1563.1 L2328.7 1566.3 L2330.4 1560.0 L2332.1 1590.5 L2333.8 1591.8 L2335.5 1605.0 L2337.2 1608.0 L2338.9 1608.4" stroke="#000" stroke-width="2.7"/>
</g>
<g filter="url(#soft)">
<g stroke="#000" stroke-width="6.0" fill="none" stroke-linecap="butt">
<path d="M151.0 1669.5 V43.0 H2340.0 V1685.0"/>
<path d="M148.0 1652.0 H2343.0"/>
<path d="M350.0 1652.0 V1685.0"/>
<path d="M549.0 1652.0 V1669.5"/>
<path d="M748.0 1652.0 V1685.0"/>
<path d="M947.0 1652.0 V1669.5"/>
<path d="M1146.0 1652.0 V1685.0"/>
<path d="M1345.0 1652.0 V1669.5"/>
<path d="M1544.0 1652.0 V1685.0"/>
<path d="M1743.0 1652.0 V1669.5"/>
<path d="M1942.0 1652.0 V1685.0"/>
<path d="M2141.0 1652.0 V1669.5"/>
</g>
<text x="348.2" y="1770.0" font-size="81.0" text-anchor="middle">20</text>
<text x="746.2" y="1770.0" font-size="81.0" text-anchor="middle">30</text>
<text x="1144.2" y="1770.0" font-size="81.0" text-anchor="middle">40</text>
<text x="1542.2" y="1770.0" font-size="81.0" text-anchor="middle">50</text>
<text x="1940.2" y="1770.0" font-size="81.0" text-anchor="middle">60</text>
<text x="2338.2" y="1770.0" font-size="81.0" text-anchor="middle">70</text>
<text x="1245.3" y="1870.5" font-size="81.0" text-anchor="middle" textLength="605.3" lengthAdjust="spacingAndGlyphs">2 Theta (degree)</text>
<text transform="translate(94.2 847.3) rotate(-90)" font-size="81.0" text-anchor="middle" textLength="508.0" lengthAdjust="spacingAndGlyphs">Intensity (a.u.)</text>
<text transform="translate(199.5 687.0) rotate(-90)" font-size="59.5" textLength="101.5" lengthAdjust="spacingAndGlyphs">002</text>
<text transform="translate(716.0 438.0) rotate(-90)" font-size="59.5" textLength="98.2" lengthAdjust="spacingAndGlyphs">110</text>
<text transform="translate(769.7 371.7) rotate(-90)" font-size="59.5" textLength="89.3" lengthAdjust="spacingAndGlyphs">111</text>
<text transform="translate(814.4 424.1) rotate(-90)" font-size="59.5" textLength="101.5" lengthAdjust="spacingAndGlyphs">004</text>
<text transform="translate(889.6 147.8) rotate(-90)" font-size="59.5" textLength="92.5" lengthAdjust="spacingAndGlyphs">112</text>
<text transform="translate(933.7 663.1) rotate(-90)" font-size="59.5" textLength="97.5" lengthAdjust="spacingAndGlyphs">020</text>
<text transform="translate(980.4 725.9) rotate(-90)" font-size="59.5" textLength="94.7" lengthAdjust="spacingAndGlyphs">104</text>
<text transform="translate(1091.0 781.8) rotate(-90)" font-size="59.5" textLength="92.9" lengthAdjust="spacingAndGlyphs">113</text>
<text transform="translate(1296.4 662.6) rotate(-90)" font-size="59.5" textLength="95.5" lengthAdjust="spacingAndGlyphs">114</text>
<text transform="translate(1396.2 759.6) rotate(-90)" font-size="59.5" textLength="97.9" lengthAdjust="spacingAndGlyphs">212</text>
<text transform="translate(1454.9 769.5) rotate(-90)" font-size="59.5" textLength="96.8" lengthAdjust="spacingAndGlyphs">204</text>
<text transform="translate(1550.5 761.6) rotate(-90)" font-size="59.5" textLength="95.1" lengthAdjust="spacingAndGlyphs">115</text>
<text transform="translate(1620.5 552.3) rotate(-90)" font-size="59.5" textLength="96.8" lengthAdjust="spacingAndGlyphs">300</text>
<text transform="translate(1729.8 768.5) rotate(-90)" font-size="59.5" textLength="99.3" lengthAdjust="spacingAndGlyphs">302</text>
<text transform="translate(1785.0 779.1) rotate(-90)" font-size="59.5" textLength="93.4" lengthAdjust="spacingAndGlyphs">124</text>
<text transform="translate(1837.5 731.3) rotate(-90)" font-size="59.5" textLength="93.7" lengthAdjust="spacingAndGlyphs">116</text>
<text transform="translate(1960.3 765.0) rotate(-90)" font-size="59.5" textLength="90.4" lengthAdjust="spacingAndGlyphs">221</text>
<text transform="translate(2012.7 721.4) rotate(-90)" font-size="59.5" textLength="96.5" lengthAdjust="spacingAndGlyphs">215</text>
<text transform="translate(2070.8 747.2) rotate(-90)" font-size="59.5" textLength="97.9" lengthAdjust="spacingAndGlyphs">222</text>
<text transform="translate(2181.8 777.1) rotate(-90)" font-size="59.5" textLength="97.9" lengthAdjust="spacingAndGlyphs">312</text>
<text transform="translate(2279.0 781.0) rotate(-90)" font-size="59.5" textLength="96.5" lengthAdjust="spacingAndGlyphs">108</text>
<use href="#dia" x="470.3" y="749.6"/>
<use href="#dia" x="523.5" y="713.0"/>
<use href="#dia" x="1003.0" y="742.0"/>
<use href="#dia" x="1159.0" y="757.0"/>
<use href="#dia" x="1223.0" y="737.6"/>
<use href="#dia" x="1634.6" y="674.6"/>
<use href="#dia" x="1796.3" y="447.8"/>
<path d="M1829.0 156.4 H1963.0" stroke="#000" stroke-width="10.2" stroke-linecap="round" fill="none"/>
<text x="1991.6" y="176.0" font-size="80.4">YMO</text>
<path d="M1826.5 255.8 H1955.3" stroke="#ff1c24" stroke-width="10.2" stroke-linecap="round" fill="none"/>
<text x="1975.5" y="273.8" font-size="80.4">YMO:Co</text>
<path d="M1826.5 352.1 H1956.5" stroke="#3b40d6" stroke-width="10.2" stroke-linecap="round" fill="none"/>
<text x="1980.5" y="372.3" font-size="80.4">YMO:Sn</text>
<path d="M1833.2 444.5 H1966.5" stroke="#000" stroke-width="10.2" stroke-linecap="round" fill="none"/>
<text x="1994.0" y="465.0" font-size="80.4">YMn<tspan font-size="58" dy="31.5">2</tspan><tspan dy="-31.5">O</tspan><tspan font-size="58" dy="31.5">5</tspan></text>
</g>
</svg></body></html>
